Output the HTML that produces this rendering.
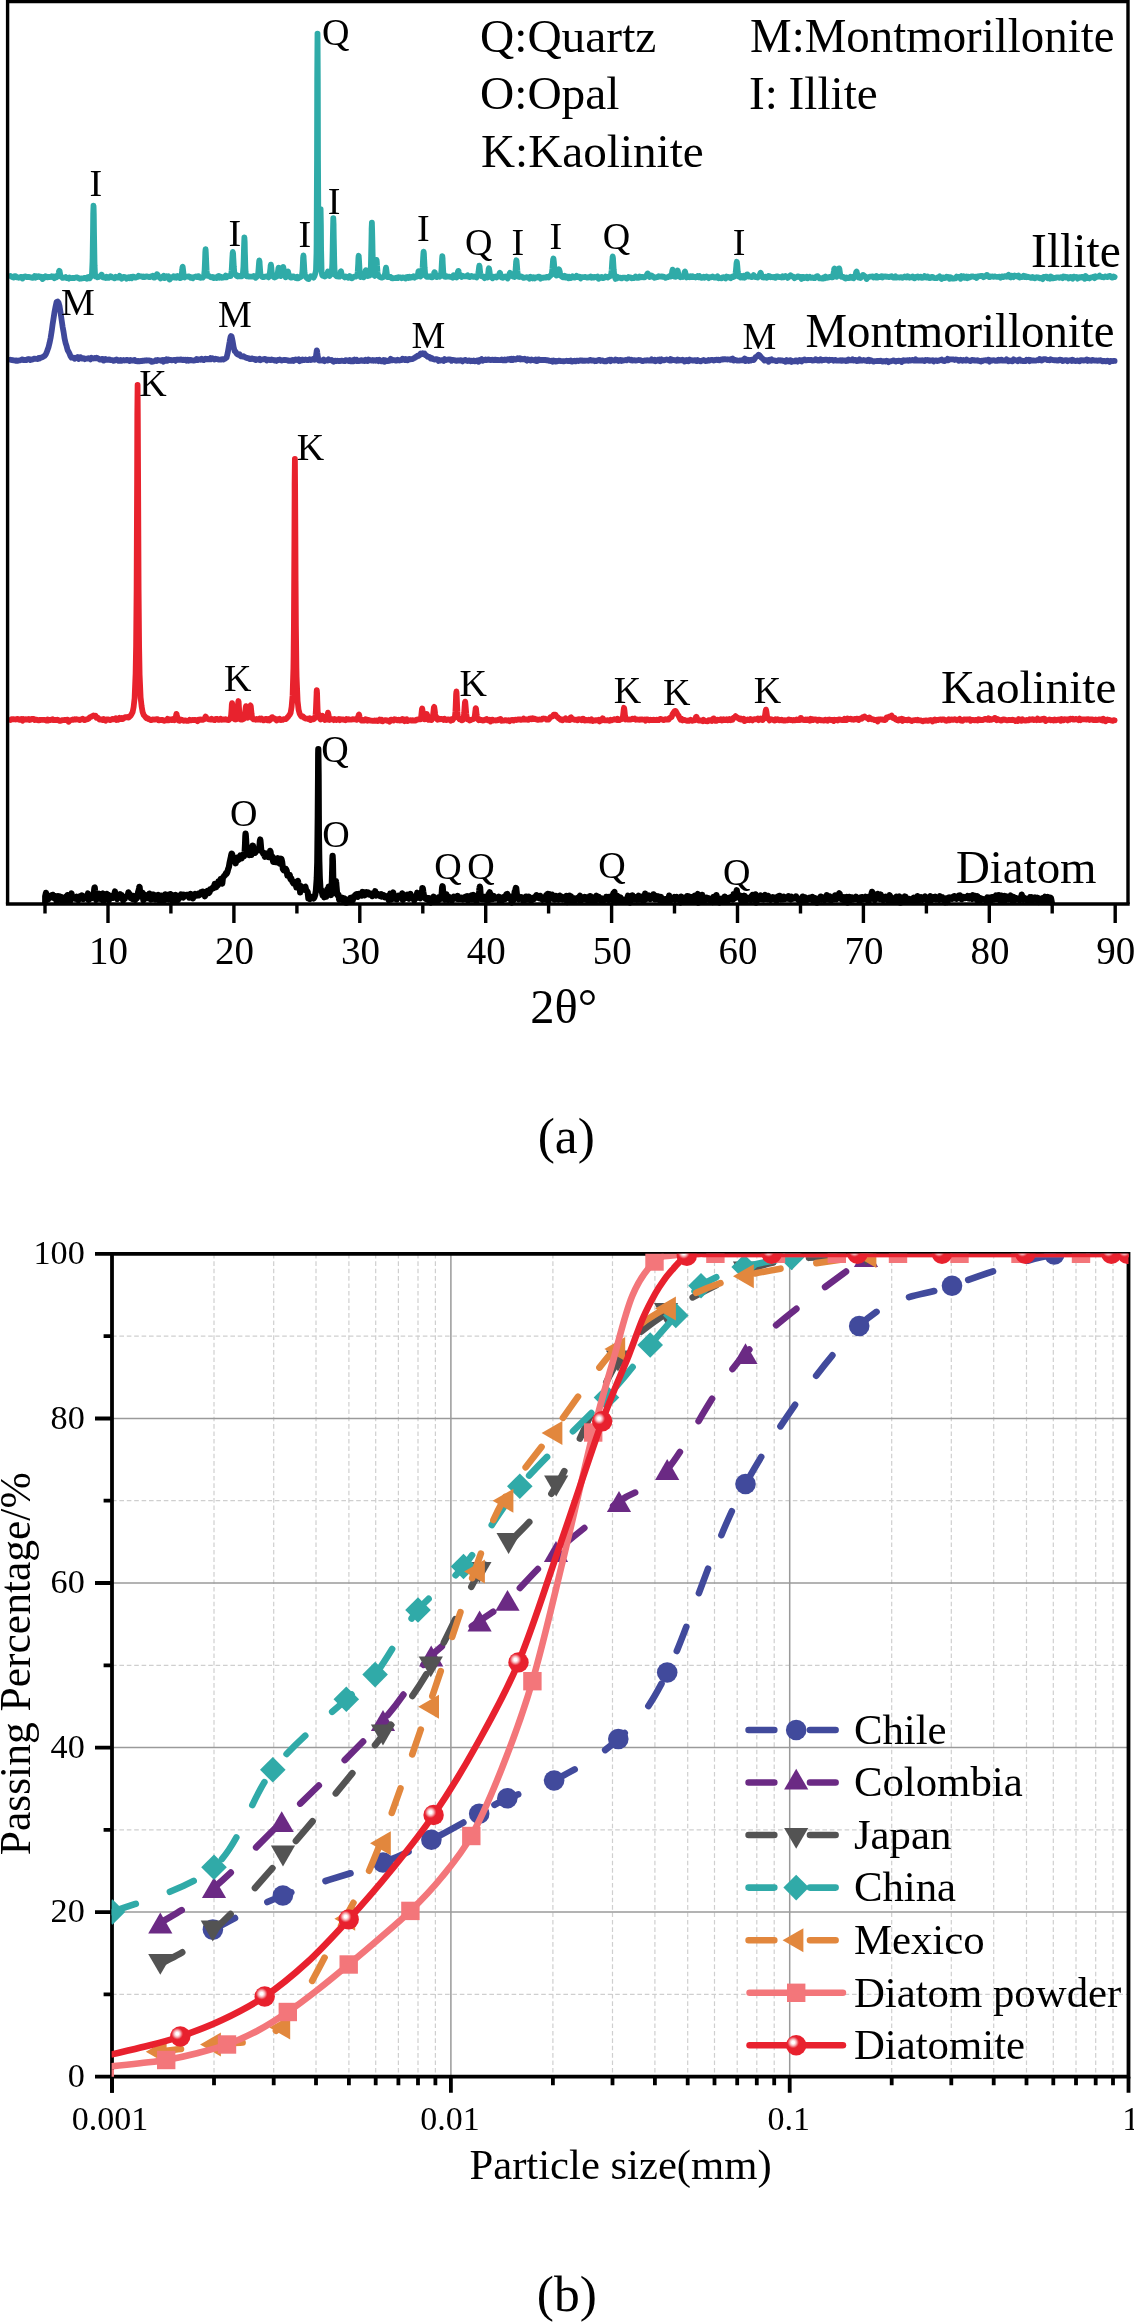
<!DOCTYPE html>
<html lang="en"><head><meta charset="utf-8"><title>XRD patterns and particle size distribution</title>
<style>html,body{margin:0;padding:0;background:#fff}body{width:1134px;height:2322px;overflow:hidden}svg{display:block;will-change:transform}text{font-family:'Liberation Serif', 'Times New Roman', serif;fill:#000}</style>
</head><body>
<svg width="1134" height="2322" viewBox="0 0 1134 2322">
<defs>
<radialGradient id="sph" cx="0.35" cy="0.365" r="0.29" fx="0.35" fy="0.365"><stop offset="0" stop-color="#ffffff"/><stop offset="0.24" stop-color="#ffffff"/><stop offset="0.55" stop-color="#f7b3b8"/><stop offset="0.85" stop-color="#ec4853"/><stop offset="1" stop-color="#E8212E"/></radialGradient>
<clipPath id="clipb"><rect x="111.6" y="1253.7" width="1016.9" height="823"/></clipPath>
</defs>
<rect width="1134" height="2322" fill="#fff"/>
<g id="panel-a">
<polyline points="10.6,276 11.6,276.8 12.6,277.1 13.6,277.5 14.6,276.1 15.6,276.1 16.6,277.3 17.6,277.2 18.6,277.8 19.6,277.5 20.6,276.9 21.6,276.8 22.6,278.5 23.6,276.8 24.6,276.6 25.6,276.4 26.6,277.1 27.6,277.2 28.6,276.9 29.6,277.1 30.6,277.3 31.6,277.6 32.6,277.8 33.6,277.3 34.6,276.1 35.6,277.6 36.6,276.3 37.6,277 38.6,276.2 39.6,277.1 40.6,276.6 41.6,277.2 42.6,279 43.6,277 44.6,277.5 45.6,276.2 46.6,276.8 47.6,277.3 48.6,276.9 49.6,277.2 50.6,277 51.6,276.3 52.6,277.3 53.6,276.5 54.6,278.1 55.6,276.6 56.6,277.3 57.6,276.3 57.8,276.1 58.3,275 58.6,273.8 58.8,272.7 59,271.4 59.3,270.8 59.5,271 59.6,271.1 59.8,272.2 60.3,275 60.6,276.3 60.8,276.6 61.6,276.9 62.6,277.9 63.6,277.7 64.6,277.5 65.6,277 66.6,278 67.6,277.8 68.6,278.6 69.6,277.4 70.6,278 71.6,278.1 72.6,278 73.6,277.9 74.6,278 75.6,277.5 76.6,277.3 77.6,277.7 78.6,278.2 79.6,278.8 80.6,278.5 81.6,278.5 82.6,278.3 83.6,278.2 84.6,277.9 85.6,278.2 86.6,278.7 87.6,277.3 88.6,276.9 89.6,278.3 90.6,276.8 91.6,275.7 92,273.2 92.5,261.6 92.6,257.2 93,231.8 93.2,214.2 93.5,205.7 93.6,207 93.8,214.1 94,231.9 94.5,262.2 94.6,266 95,273.8 95.6,276.6 96.6,276.6 97.6,277.3 98.6,277 99.6,276.4 100.1,276.4 100.6,276.1 101.1,275.2 101.3,274.7 101.6,274.6 101.8,274.9 102.1,275.6 102.6,276.8 103.1,277.4 103.6,277.5 104.6,277.2 105.6,278 106.6,276.8 107.6,277.7 108.6,277.9 109.6,277.1 110.6,276.2 111.6,276.8 112.6,277.5 113.6,277.6 114.6,278.3 115.6,276.7 116.6,277.4 117.6,277.7 118.6,277.3 119.6,275.9 120.6,277.8 121.6,278.7 122.6,277.9 123.6,276.8 124.6,277 125.6,277.4 126.6,278.7 127.6,277.6 128.6,277.2 129.6,278.1 130.6,277 131.6,278.2 132.6,276.6 133.6,276.7 134.6,277.4 135.6,277.7 136.6,277.2 137.6,277 138.6,275.7 139.6,276.3 140.6,276.3 141.6,276.4 142.6,277 143.6,276.4 144.6,277.1 145.6,276.7 146.6,276.4 147.6,276.7 148.6,276.9 149.6,277.2 150.6,276.4 151.6,276.6 152.6,275.9 153.6,277.7 154.6,277.6 155.5,276.6 155.6,276.4 156,275.9 156.5,275 156.6,274.8 156.8,274.5 157,274.2 157.2,274.3 157.5,274.6 157.6,274.7 158,275.8 158.5,276.7 158.6,276.9 159.6,277.1 160.6,278.4 161.6,277.3 162.6,276.7 163.6,275.8 164.6,278.1 165.6,277.4 166.6,276.4 167.6,277.5 168.6,276.4 169.6,279.5 170.6,278.1 171.6,277.8 172.6,277.3 173.6,276.2 174.6,277.4 175.6,276.5 176.6,277.8 177.6,276.1 178.6,276.8 179.6,278 180.6,278.1 181.2,276.6 181.6,274.8 181.7,274.3 182.2,270.2 182.4,267.8 182.6,266.9 182.7,266.8 182.9,268.3 183.2,271 183.6,275 183.7,275.5 184.2,277.1 184.6,277.4 185.6,276.5 186.6,276.7 187.6,276.7 188.6,276.4 189.6,276.7 190.6,277.9 191.6,277.5 192.6,278.3 193.6,277.1 194.6,277 195.6,276.5 196.6,277 197.6,276.3 198.6,276.1 199.6,277.5 200.6,277.9 201.6,277.5 202.6,277.7 203.6,276.6 204.1,275.2 204.6,270.3 205.1,259 205.3,252.2 205.6,249.1 205.8,252.3 206.1,259.1 206.6,270.5 207.1,274.9 207.6,275.8 208.6,276 209.6,276.3 210.6,277.2 211.6,277.4 212.6,277 213.6,278.1 214.6,277.4 215.6,277.6 216.6,278 217.6,276.7 218.6,276 219.6,277.6 220.6,276.7 221.6,277.8 222.6,277.2 223.6,277.5 224.6,277.3 225.6,275.6 226.6,277.2 227.6,276.2 228.6,276 229.6,276 230.6,276.1 231.3,273.6 231.6,270.8 231.8,268.1 232.3,258.7 232.6,254.3 232.6,253.6 232.8,252 233.1,253.5 233.3,257.6 233.6,263 233.8,266.6 234.3,272.4 234.6,274.2 235.6,274.4 236.6,276 237.6,276.5 238.6,275.7 239.6,276.3 240.6,276.2 241.6,276.4 242.6,274.4 242.9,273.3 243.4,267 243.6,261.9 243.9,251.2 244.2,241.9 244.4,237.4 244.6,240.4 244.7,242 244.9,251.7 245.4,268.3 245.6,272.1 245.9,274.8 246.6,276.3 247.6,276.1 248.6,276.5 249.6,276.6 250.6,276.7 251.6,276.6 252.6,276.5 253.6,276 254.6,276.4 255.6,277.8 256.6,277 257.6,276 257.8,275.5 258.3,272.3 258.6,268.6 258.8,265.6 259.1,262 259.3,260.4 259.6,262.1 259.6,262.7 259.8,265.8 260.3,272.6 260.6,274.9 260.8,275.7 261.6,276.3 262.6,277 263.6,277.1 264.6,276.6 265.6,276.6 266.6,276.4 267.6,276.3 268.6,277.3 269.4,275 269.6,274 269.9,272.7 270.4,268.3 270.6,266.4 270.6,265.9 270.9,264.6 271.1,265.8 271.4,268.4 271.6,270.6 271.9,273.3 272.4,275.6 272.6,276 273.6,276.9 274.6,277.5 275.6,276.9 276.6,276.5 277.2,275.4 277.6,273.8 277.7,273.3 278.2,269.9 278.4,268.3 278.6,267.7 278.7,267.7 278.9,268.5 279.2,270.3 279.6,273.5 279.7,274 280.2,275.6 280.6,276 281.6,275.1 281.7,274.9 282.2,272.8 282.6,270.1 282.7,269.3 282.9,267.7 283.2,267 283.4,267.8 283.6,268.7 283.7,269.4 284.2,272.9 284.6,274.6 284.7,275 285.6,277.3 286.5,276.5 286.6,276.2 287,275 287.5,272.7 287.6,272.2 287.8,271.8 288,271.6 288.2,272.3 288.5,273.7 288.6,274.2 289,275.5 289.5,276.2 289.6,276.2 290.6,277.6 291.6,277.7 292.6,276.4 293.6,276.5 294.6,276.9 295.6,278 296.6,278.3 297.6,276.8 298.6,278.1 299.6,277.2 300.6,277.1 301.6,276.3 301.9,275.5 302.4,271.6 302.6,268.7 302.9,262.8 303.1,257.9 303.4,255.5 303.6,256.8 303.6,257.5 303.9,262.3 304.4,271.1 304.6,273.3 304.9,275.1 305.6,276.3 306.6,277.7 307.6,278.7 308.6,279.1 309.6,277.2 310.6,276.3 311.6,276.9 312.6,276.3 313.6,277.6 314.6,275.8 315.6,272.4 316,269.9 316.5,252.8 316.6,243.2 317,160.7 317.2,80.3 317.5,33.6 317.6,42.3 317.8,79.9 318,159.7 318.5,250.8 318.6,257.2 319,267.8 319.1,268.7 319.6,268.6 320.1,247.6 320.4,224.1 320.6,209.1 320.9,224.7 321.1,248.9 321.6,271.6 322.1,274.9 322.6,275.7 323.6,276 324.6,276.5 325.6,276.1 326.5,275.3 326.6,275.1 327,274.5 327.5,273.1 327.6,272.7 327.8,272 328,271.4 328.2,271.7 328.5,272.5 328.6,272.9 329,274.6 329.5,275.8 329.6,275.9 330.6,274.8 331.6,273.9 331.8,272.7 332.3,263.6 332.6,251.1 332.8,239.6 333.1,225.2 333.3,218.1 333.6,224.6 333.6,227.1 333.8,238.9 334.3,263.5 334.6,271 334.8,273.3 335.6,275.3 336.6,276.4 337.6,276.4 338.6,276.6 339.5,276.6 339.6,276.5 340,275 340.5,272.4 340.6,271.9 340.8,271.5 341,271.3 341.2,272.1 341.5,273.4 341.6,274 342,275.2 342.5,275.8 342.6,275.8 343.6,276.3 344.6,277.4 345.6,276.4 346.6,276.8 347.6,277.6 348.6,277.8 349.6,276.1 350.6,277.4 351.6,278.3 352.6,277.8 353.6,276.9 354.6,276.7 355.6,276.7 356.6,275.9 357.2,275.3 357.6,273.1 357.7,272 358.2,263.3 358.4,258.2 358.6,256.1 358.7,255.7 358.9,258.2 359.2,263.3 359.6,270.7 359.7,272.1 360.2,276 360.6,277 361.6,276.5 362.6,275.9 363.6,277.3 364.3,276 364.6,275.1 364.8,274.5 365.3,272.1 365.6,270.8 365.6,270.6 365.8,270.2 366.1,270.9 366.3,272.3 366.6,274 366.8,274.8 367.3,275.9 367.6,276 368.6,275.6 369.6,275.5 370.4,274.1 370.6,272.2 370.9,265.2 371.4,242.3 371.6,231.3 371.6,228.9 371.9,222.7 372.1,229 372.4,242.1 372.6,252.5 372.9,264.4 373.4,273.5 373.6,274.8 374.6,275.9 375,275.5 375.5,272.9 375.6,271.9 376,265.9 376.2,261.8 376.5,259.9 376.6,260.2 376.8,261.7 377,265.5 377.5,271.8 377.6,272.5 378,274.7 378.6,275.9 379.6,276.8 380.6,277.2 381.6,277.7 382.6,277.3 383.6,276.8 384.5,276.3 384.6,276.2 385,274.5 385.5,270.6 385.6,269.7 385.8,268.5 386,267.6 386.2,268.7 386.5,270.9 386.6,271.8 387,274.9 387.5,276.9 387.6,277.1 388.6,277 389.6,276.9 390.6,277 391.6,278.2 392.6,278.4 393.6,278.2 394.6,278.2 395.6,278.2 396.6,277.7 397.6,278.1 398.6,277.1 399.6,277.6 400.6,277.3 401.6,278.2 402.6,277.4 403.6,277.6 404.6,277.9 405.6,278.5 406.6,277.1 407.6,277 408.6,278 409.6,276.8 410.6,277.7 411.6,277 412.6,277.3 413.6,276.2 414.6,277.6 415.6,276.7 416.6,276.2 417.2,276.5 417.6,276.1 417.7,275.6 418.2,272.9 418.4,271.7 418.6,271.2 418.7,271.2 418.9,272.1 419.2,273.5 419.6,275.9 419.7,276.2 420.2,276.6 420.6,276.3 421.6,275.2 422.1,273.1 422.6,267.4 423.1,257.9 423.4,253.5 423.6,251.6 423.9,253.4 424.1,257.9 424.6,267.3 425.1,273.4 425.6,275.8 426.6,276.8 427.6,276.1 428.6,276.9 429.6,276.5 430.6,276.1 431.6,277.4 432.6,277.1 433,276.6 433.5,275.5 433.6,275.2 434,273.6 434.2,272.7 434.5,272.2 434.6,272.2 434.8,272.4 435,273 435.5,274.3 435.6,274.5 436,275.8 436.6,277.1 437.6,276.8 438.6,275.8 439.6,276.7 440.6,275.2 440.8,274.9 441.3,271.9 441.6,267.7 441.8,263.7 442.1,258.6 442.3,256.2 442.6,258.7 442.6,259.6 442.8,263.8 443.3,272.4 443.6,274.9 443.8,275.8 444.6,276.7 445.6,276.9 446.6,276.2 447.6,276.6 448.6,276.6 449.6,276.7 450.6,277 451.6,277.2 452.6,277.7 453.6,275.2 454.6,276.9 455.6,276.4 456.6,277.4 456.7,277.2 457.2,275.6 457.6,273.7 457.7,273.1 457.9,271.7 458.2,270.9 458.4,270.9 458.6,271.2 458.7,271.8 459.2,274.4 459.6,275.9 459.7,276 460.6,276 461.6,277 462.6,275.8 463.6,276.4 464.6,276.3 465.6,276.4 466.6,276.1 467.6,275.3 468.6,276.7 469.6,277.1 470.6,276.4 471.6,275.9 472.6,276.7 473.6,276.9 474.6,276.5 475.6,276.6 476.6,277.4 477.6,275.5 477.8,275.3 478.3,273.5 478.6,271.4 478.8,269.3 479.1,266.9 479.3,265.7 479.6,266.5 479.6,266.9 479.8,268.9 480.3,273.4 480.6,275.1 480.8,275.6 481.6,276.3 482.6,276.3 483.6,276.6 484.6,278.1 485.6,276.9 486.6,276.9 487.4,277.5 487.6,277.3 487.9,275.7 488.4,271.5 488.6,269.7 488.6,269.3 488.9,268.2 489.1,268.8 489.4,270.5 489.6,271.9 489.9,274.2 490.4,276.5 490.6,277.1 491.6,276.6 492.6,278.3 493.6,276.6 494.6,277 495.6,276.4 496.6,277.4 497.6,276.6 498.3,276.6 498.6,276.2 498.8,275.7 499.3,274 499.6,273.2 499.6,273 499.8,272.8 500.1,273.1 500.3,273.8 500.6,274.8 500.8,275.6 501.3,277 501.6,277.5 502.6,277.8 503.6,277.3 504.6,276.7 505.6,276.5 506.6,277.3 507.6,278.5 508.5,276.5 508.6,276.2 509,275.4 509.5,273.9 509.6,273.6 509.8,273.2 510,272.9 510.2,273.2 510.5,273.9 510.6,274.2 511,275.2 511.5,275.9 511.6,276 512.6,276.3 513.6,276.7 514.6,277 514.9,275.9 515.4,272 515.6,269.5 515.9,265.2 516.1,261.8 516.4,260.3 516.6,261.2 516.6,261.6 516.9,264.8 517.4,271 517.6,272.6 517.9,274.7 518.6,276.8 519.6,277 520.6,276.4 521.6,276.6 522.6,277.3 523.6,277.9 524.6,277.7 525.6,277.5 526.6,277.2 527.6,277.6 528.6,277.5 529.6,278.8 530.6,276.8 531.6,277.3 532.6,278.3 533.6,277.3 534.6,278.4 535.6,277.5 536.6,277.6 537.6,277.2 538.6,276.6 539.6,276.8 540.6,278.7 541.6,277.7 542.6,277.6 543.6,277.8 544.6,277.5 545.6,277.7 546.6,276.9 547.6,276.8 548.6,277.4 549.6,276.4 550.6,275.5 551.6,274.5 551.9,272.9 552.4,268.3 552.6,265.8 552.9,262.1 553.1,259.5 553.4,258.5 553.6,259.4 553.6,259.7 553.9,262.2 554.4,268.2 554.6,270.1 554.9,272.4 555.6,274.8 556.6,275.5 557.5,275.2 557.6,275 558,273.1 558.5,270.5 558.6,270 558.8,269.6 559,269.3 559.2,269.7 559.5,270.6 559.6,271 560,272.7 560.5,274.5 560.6,274.8 561.6,276.4 562.6,277.1 563.6,277.4 564.6,275.7 565.6,277.5 566.6,276.8 567.6,276.6 568.6,278.3 569.6,276.8 570.6,278.1 571.6,277.6 572.6,276.4 573.6,277.4 574.6,277.6 575.6,277.1 576.6,275.8 577.6,277.1 578.6,277.2 579.6,276.7 580.6,278.4 581.6,277.2 582.6,277.2 583.6,277.2 584.6,277 585.6,277 586.6,277.5 587.6,277.6 588.6,277.1 589.6,277.4 590.6,276.6 591.6,277.7 592.6,276.9 593.6,277.5 594.6,276.8 595.6,277 596.6,277.5 597.6,276.6 598.6,278.8 599.6,277.3 600.6,277.3 601.6,276.9 602.6,278.2 603.6,278.1 604.6,277.5 605.6,276.5 606.6,277 607.6,277.6 608.6,276.9 609.6,276.3 610.6,275.8 611.2,274 611.6,270.6 611.7,269.5 612.2,261.8 612.5,258.2 612.6,256.9 612.7,256.6 613,258.2 613.2,261.8 613.6,268.2 613.7,269.6 614.2,274.5 614.6,276.2 615.6,278.9 616.6,278.5 617.6,276.9 618.6,277.9 619.6,277.8 620.6,277.7 621.6,278.4 622.6,277.6 623.6,277.7 624.6,277.6 625.6,277.8 626.6,278.6 627.6,278.3 628.6,277 629.6,277.6 630.6,277.3 631.6,278.3 632.6,277.9 633.6,278.2 634.6,277.6 635.6,276.5 636.6,277.8 637.6,277.6 638.6,277.8 639.6,276.6 640.6,277.4 641.6,276.9 642.6,276.8 643.6,277.4 644.6,277.3 645.6,276.4 646.5,275.4 646.6,275.2 647,274.6 647.5,273.6 647.6,273.5 647.8,273.5 648,273.7 648.2,274 648.5,274.6 648.6,274.8 649,275.8 649.5,276.8 649.6,277 650.6,276.7 651.6,275.5 652.6,276.3 653.6,277.1 654.6,277.8 655.6,277.5 656.6,277.1 657.6,277 658.6,276.2 659.6,276.6 660.6,276.7 661.6,276.4 662.6,276.9 663.6,276.7 664.6,277.1 665.6,277.8 666.6,277.4 667.6,277.2 668.6,276.8 669.6,276 670.6,276.6 671.1,276.4 671.6,275.1 672.1,272 672.4,270.4 672.6,269.6 672.9,270.5 673.1,272.2 673.6,275.5 674.1,276.5 674.6,276.4 675.6,276.9 676.1,276.3 676.6,274.9 677.1,272.3 677.4,271 677.6,270.4 677.9,271.4 678.1,273 678.6,276.3 679.1,276.5 679.6,276 680.6,277.3 681.6,276.4 682.6,276.9 683.5,275.7 683.6,275.5 684,274.5 684.5,272.6 684.6,272.2 684.8,271.8 685,271.6 685.2,272.2 685.5,273.4 685.6,273.9 686,275.7 686.5,277.2 686.6,277.4 687.6,276.1 688.6,276.7 689.6,277.3 690.6,276.3 691.6,277.1 692.6,276.2 693.6,277.1 694.6,277 695.6,277.5 696.6,277 697.6,276.1 698.6,277.2 699.6,276.2 700.6,277.3 701.6,277.8 702.6,277.3 703.6,276.7 704.6,277.7 705.6,277.2 706.6,276.4 707.6,277 708.6,278.1 709.6,277.1 710.6,277.4 711.6,277.2 712.6,276.4 713.6,277.1 714.6,277.7 715.6,277.6 716.6,277.4 717.6,276.3 718.6,278.3 719.6,278 720.6,278.2 721.6,278.4 722.6,277.3 723.6,277.2 724.6,277.7 725.6,278.5 726.6,276.5 727.6,277.3 728.6,277 729.6,277.7 730.6,278.2 731.6,277.1 732.6,276.4 733.6,277 734.6,276.5 735.3,274.7 735.6,272.9 735.8,271.5 736.3,266 736.5,263.3 736.6,262.9 736.8,261.8 737,263 737.3,265.8 737.6,269.5 737.8,271.9 738.3,275.5 738.6,276.5 739.6,275.9 740.6,277.5 741.6,276 742.6,277.5 743.6,275.8 744.6,277.7 745.6,276.5 745.9,276.2 746.4,275.3 746.6,274.8 746.9,274.5 747.1,274.3 747.4,274.3 747.6,274.6 747.6,274.7 747.9,275.2 748.4,276.2 748.6,276.6 748.9,276.6 749.6,276.3 750.6,276.6 751.6,277.1 752.6,276.9 753.6,275.1 754.6,276.7 755.6,277.2 756.6,277.2 757.6,277.5 758.6,276.1 759,276.3 759.5,276.1 759.6,276 760,274.3 760.2,273.4 760.5,272.9 760.6,272.8 760.8,273 761,273.6 761.5,275 761.6,275.3 762,276.4 762.6,277.3 763.6,277.5 764.6,277.1 765.6,276.7 766.6,277.7 767.6,277.3 768.6,275.9 769.6,276.3 770.6,277.3 771.6,277 772.6,277.1 773.6,277.3 774.6,276.9 775.6,277.8 776.6,276.4 777.6,276.5 778.6,276.9 779.6,277.2 780.6,277.2 781.6,277.5 782.6,276.4 783.6,277.3 784.6,276.9 785.6,276 786.6,276.5 787.6,277.9 788.6,277.1 789.6,276.4 790.6,275.2 791.6,276.3 792.6,276.3 793.6,276.8 794.6,278.2 795.6,277.3 796.6,277.1 797.6,276.4 798.6,276.3 799.6,277 800.6,276.9 801.6,279 802.6,277 803.6,276.9 804.6,278 805.6,277.5 806.6,276.7 807.6,278.3 808.6,277.3 809.6,276.8 810.6,277.8 811.6,277.9 812.6,277.4 813.6,278.1 814.6,278.2 815.6,277.1 816.6,276.4 817.6,276.2 818.6,277.6 819.6,278.4 820.6,278.2 821.6,278.4 822.6,278.7 823.6,277.6 824.6,278.2 825.6,276.6 826.6,277.9 827.6,277.7 828.6,277.4 829.6,277.1 830.6,276.6 831.6,277.3 832.6,277.4 833,276.2 833.5,273.6 833.6,272.9 834,270.5 834.2,269.1 834.5,268.6 834.6,268.8 834.8,269.2 835,270.4 835.5,273.3 835.6,273.8 836,275.5 836.6,276.8 837.6,275.1 838.1,273.5 838.6,270.7 838.9,269.1 839.1,268.4 839.4,269 839.6,270.4 840.1,273.8 840.6,276.1 841.6,276.8 842.6,276.7 843.6,277.2 844.6,278.1 845.6,278.5 846.6,277.4 847.6,278.1 848.6,278.1 849.6,277.9 850.6,276.7 851.6,277.8 852.6,277 853.6,278.2 854.6,277.2 854.9,276.7 855.4,275.5 855.6,274.9 855.9,273.4 856.1,272.4 856.4,271.7 856.6,271.5 856.6,271.6 856.9,272.7 857.4,275 857.6,275.9 857.9,276.6 858.6,277.5 859.6,276.6 860.6,277.9 861.5,276.9 861.6,276.7 862,276.2 862.5,275.4 862.6,275.3 862.8,275.1 863,274.9 863.2,274.9 863.5,275.1 863.6,275.2 864,275.6 864.5,276.1 864.6,276.2 865.6,276.9 866.6,279.1 867.6,277.3 868.6,277.3 869.6,276.7 870.6,276.7 871.6,276.7 872.6,276.4 873.6,277.5 874.6,276.7 875.6,277.4 876.6,276.1 877.6,277.4 878.6,276.8 879.6,277.2 880.6,276.7 881.6,276.2 882.6,277.5 883.6,276.5 884.6,276.7 885.6,276.3 886.6,276.9 887.6,276.6 888.6,277 889.6,277.1 890.6,276.5 891.6,276.1 892.6,277.3 893.6,277.6 894.6,277.5 895.6,276.4 896.6,277.5 897.6,277.4 898.6,277.4 899.6,277.5 900.6,277.1 901.6,277.4 902.6,277.9 903.6,277 904.6,276.5 905.6,277.3 906.6,277.5 907.6,276.2 908.6,276.9 909.6,277.7 910.6,277.2 911.6,277.4 912.6,276.5 913.6,277.8 914.6,278.3 915.6,277.1 916.6,276.8 917.6,276.5 918.6,277.7 919.6,277.2 920.6,276.7 921.6,277.9 922.6,277.6 923.6,277.5 924.6,276.1 925.6,277.1 926.6,277.6 927.6,276.5 928.6,277.8 929.6,278.1 930.6,277.9 931.6,276.9 932.6,276.9 933.6,277.9 934.6,278 935.6,278.2 936.6,278.2 937.6,277.4 938.6,277.3 939.6,276.4 940.6,278 941.6,279 942.6,277.3 943.6,277.3 944.6,278 945.6,277.9 946.6,276.8 947.6,277.2 948.6,277 949.6,278.8 950.6,277.2 951.6,278.1 952.6,278.7 953.6,278.6 954.6,278.3 955.6,278.4 956.6,276.6 957.6,277.1 958.6,276.8 959.6,277.1 960.6,278.7 961.6,276.1 962.6,277.4 963.6,276.3 964.6,277.8 965.6,277.7 966.6,276.5 967.6,278.1 968.6,276.8 969.6,277.5 970.6,276.9 971.6,276.3 972.6,276.4 973.6,276.6 974.6,277 975.6,276.7 976.6,278 977.6,276.5 978.6,276.4 979.6,276.2 980.6,276.2 981.6,275.8 982.6,276.1 983.6,277.2 984.6,276.7 985.5,276.2 985.6,276.1 986,275.7 986.5,275.1 986.6,275 986.8,274.9 987,274.9 987.2,275.1 987.5,275.6 987.6,275.8 988,276.3 988.5,276.7 988.6,276.8 989.6,277.2 990.6,276.5 991.6,276.7 992.6,276.4 993.6,276.8 994.6,276.4 995.6,276.7 996.6,276.8 997.6,276.8 998.6,276.8 999.6,276.6 1000.6,277.7 1001.6,276.7 1002.6,276.3 1003.6,277 1004.6,276.2 1005.6,276.2 1006.6,276.8 1007.6,275.8 1008.6,274.8 1009.6,276.9 1010.6,277.4 1011.6,275.7 1012.6,276.2 1013.6,277.1 1014.6,275.5 1015.6,276.2 1016.6,276 1017.6,276.7 1018.6,275.6 1019.6,277.4 1020.6,276.8 1021.6,277.1 1022.6,276.8 1023.6,275.7 1024.6,277 1025.6,276.3 1026.6,277.2 1027.6,276.7 1028.6,277.1 1029.6,277.2 1030.6,277.8 1031.6,277.9 1032.6,276.9 1033.6,277.5 1034.6,278.4 1035.6,277.9 1036.6,277.2 1037.6,277.6 1038.6,277.5 1039.6,278.3 1040.6,277.8 1041.6,278 1042.6,279.1 1043.6,276.9 1044.6,277.1 1045.6,276.7 1046.6,276.7 1047.6,278.2 1048.6,277.8 1049.6,278.6 1050.6,276.4 1051.6,277 1052.6,278.4 1053.6,278.1 1054.6,278 1055.6,277.9 1056.6,277.4 1057.6,277.3 1058.6,277.3 1059.6,277.8 1060.6,277.2 1061.6,277.4 1062.6,278.1 1063.6,276.5 1064.6,276.7 1065.6,277.5 1066.6,277 1067.6,277.1 1068.6,278.4 1069.6,277.4 1070.6,276.9 1071.6,277.9 1072.6,278.7 1073.6,276.6 1074.6,276.9 1075.6,277.3 1076.6,276.9 1077.6,278.6 1078.6,277.6 1079.6,277.1 1080.6,277.6 1081.6,276.9 1082.6,277 1083.6,277.4 1084.6,278.8 1085.6,276 1086.6,277.6 1087.6,278.1 1088.6,277.7 1089.6,278.4 1090.6,277.5 1091.6,277.3 1092.6,277.1 1093.6,276.7 1094.6,278.1 1095.6,276.4 1096.6,277 1097.6,276.7 1098.6,276.5 1099.6,275.6 1100.6,276.7 1101.6,277 1102.6,277 1103.6,277.4 1104.6,276.7 1105.6,276.4 1106.6,277 1107.6,277.2 1108.6,276.3 1109.6,275.9 1110.6,276.2 1111.6,277.5 1112.6,277.5 1113.6,276.4 1114.6,277" fill="none" stroke="#2FABA8" stroke-width="5.8" stroke-linejoin="round" stroke-linecap="round"/>
<polyline points="10.6,359.8 11.6,360 12.6,360.1 13.6,360.3 14.6,360.5 15.6,360.8 16.6,360.4 17.6,360.9 18.6,360.5 19.6,360.3 20.6,360.1 21.6,359.7 22.6,359.3 23.6,360 24.6,359.9 25.6,360.1 26.6,360.1 27.6,359.2 28.6,359.4 29.6,359.1 30.6,360.1 31.6,359.5 32.6,359.5 33.6,358.9 34.6,358.6 35.6,358.8 36.6,358.9 37.6,359 38.6,357.9 39.6,358.6 40.6,357.7 41.6,357.5 42.6,357.1 43.6,356.4 44.6,355.9 45.6,354.7 46.6,352.6 47.6,349.7 48.6,346.9 49.6,342.8 50.6,338 51.6,331.8 52.6,324.4 53.6,318 54.6,311.5 55.6,306.4 56.6,302 57.6,301.4 58.6,302.8 59.6,306.4 60.6,312.9 61.6,319.9 62.6,326.7 63.6,332.1 64.6,338.7 65.6,343.1 66.6,346.2 67.6,350.1 68.6,351.7 69.6,353.8 70.6,356.3 71.6,357.7 72.6,357.6 73.6,357.7 74.6,358.8 75.6,358.2 76.6,357.7 77.6,357.1 78.6,358.9 79.6,357.4 80.6,357.2 81.6,358.3 82.6,358.7 83.6,358.3 84.6,359.2 85.6,358.6 86.6,358.7 87.6,358.7 88.6,358.2 89.6,358.5 90.6,359.4 91.6,357.8 92.6,358.3 93.6,358.5 94.6,358 95.6,358.3 96.6,357.6 97.6,358.3 98.6,358.7 99.6,359.5 100.6,359.6 101.6,359 102.6,359 103.6,360.6 104.6,360.3 105.6,359 106.6,359.9 107.6,359.7 108.6,359.9 109.6,359.4 110.6,360.1 111.6,360.1 112.6,360.2 113.6,360.9 114.6,360.5 115.6,359.8 116.6,359.5 117.6,360.1 118.6,360.9 119.6,360.8 120.6,360 121.6,360.9 122.6,360.5 123.6,360 124.6,360.5 125.6,360.3 126.6,359.8 127.6,360.1 128.6,360.4 129.6,361 130.6,359.9 131.6,360.5 132.6,360.5 133.6,360.4 134.6,359.9 135.6,361.2 136.6,361.2 137.6,361.4 138.6,360.9 139.6,361.4 140.6,361 141.6,361.2 142.6,360.6 143.6,360.9 144.6,360.7 145.6,360.3 146.6,360.6 147.6,360.3 148.6,360.3 149.6,360.7 150.6,360.6 151.6,361.9 152.6,361.7 153.6,361.4 154.6,361.2 155.6,360.3 156.6,360.9 157.6,359.9 158.6,360.3 159.6,360.3 160.6,360.3 161.6,360.9 162.6,360 163.6,361.6 164.6,360 165.6,360.7 166.6,359.4 167.6,360.6 168.6,359.5 169.6,360.1 170.6,360 171.6,360.4 172.6,360.2 173.6,360.1 174.6,359.8 175.6,360.8 176.6,359.6 177.6,359.8 178.6,359.6 179.6,359.9 180.6,359.4 181.6,359.6 182.6,360.1 183.6,359.6 184.6,360.1 185.6,359.6 186.6,360.6 187.6,359.8 188.6,360.8 189.6,360.2 190.6,359.8 191.6,360.4 192.6,360.4 193.6,360.6 194.6,360.4 195.6,360.1 196.6,359 197.6,360 198.6,359.3 199.6,359.5 200.6,359.8 201.6,358.7 202.6,359.6 203.6,360.1 204.6,359.1 205.6,358.6 206.6,359.4 207.6,358.8 208.6,359.3 209.6,359.4 210.6,358.1 211.6,359.1 212.6,358.3 213.6,358.8 214.6,359.5 215.6,358.7 216.6,359 217.6,359.2 218.6,359.6 219.6,359.7 220.6,359.7 221.6,359.3 222.6,359.1 223.6,359.6 224.6,358.8 225.6,358.3 226.6,357.5 227.6,353.4 228.6,347.7 229.5,342.5 229.6,342 230,339.5 230.5,337.2 230.6,336.9 230.8,336.4 231,336 231.2,336.1 231.5,336.4 231.6,336.5 232,338.1 232.5,340.5 232.6,341 233.6,346.9 234.6,351 235.6,351.7 236.6,353.6 237.6,354.4 238.6,354.9 239.6,354.3 240.6,356.3 241.6,356.4 242.6,356.5 243.6,356.2 244.6,357 245.6,357.6 246.6,357.8 247.6,358.2 248.6,358.1 249.6,359 250.6,359 251.6,358.3 252.6,358.7 253.6,359.3 254.6,358.9 255.6,360 256.6,359.1 257.6,359.5 258.6,359.8 259.6,358.9 260.6,360.2 261.6,359.5 262.6,359.3 263.6,359.3 264.6,358.8 265.6,359 266.6,360.5 267.6,359.7 268.6,359.7 269.6,359.9 270.6,360.2 271.6,359.5 272.6,359.8 273.6,360.1 274.6,360.5 275.6,360.2 276.6,360.9 277.6,360 278.6,360 279.6,359.5 280.6,360.2 281.6,360.5 282.6,360.1 283.6,360.2 284.6,359.8 285.6,360 286.6,360.1 287.6,360.3 288.6,360.8 289.6,360.6 290.6,360.8 291.6,360.9 292.6,360 293.6,360.9 294.6,360.2 295.6,359.5 296.6,359.9 297.6,360.1 298.6,359.3 299.6,361.2 300.6,360 301.6,360.4 302.6,359.4 303.6,360 304.6,360.1 305.6,359.5 306.6,360 307.6,359.9 308.6,360.1 309.6,359.3 310.6,360.1 311.6,359.7 312.6,359.4 313.6,358.7 314.6,359.6 315.3,358.9 315.6,358 315.8,357.2 316.3,353.7 316.6,351.7 316.6,351.4 316.8,350.4 317.1,351 317.3,352.9 317.6,355.1 317.8,356.9 318.3,359.5 318.6,360.4 319.6,360.6 320.6,360.3 321.6,360.4 322.6,360.6 323.6,359.6 324.6,361.1 325.6,360.3 326.6,360.2 327.6,360.6 328.6,359.3 329.6,360 330.6,360.2 331.6,360 332.6,361.1 333.6,361.7 334.6,360.9 335.6,360.7 336.6,361.1 337.6,360.7 338.6,361 339.6,361.1 340.6,360.8 341.6,360.7 342.6,360.9 343.6,360.9 344.6,361.2 345.6,360.1 346.6,360.3 347.6,360.6 348.6,361 349.6,360.1 350.6,361.3 351.6,361.4 352.6,360.3 353.6,361.2 354.6,359.6 355.6,360.6 356.6,359.8 357.6,361.2 358.6,361.1 359.6,360.9 360.6,360.3 361.6,360.1 362.6,360.9 363.6,360.4 364.6,361 365.6,359.9 366.6,360.9 367.6,361 368.6,359.6 369.6,360.1 370.6,360.4 371.6,360.5 372.6,359.9 373.6,360.8 374.6,360.2 375.6,360.8 376.6,359.9 377.6,360.2 378.6,361.1 379.6,359.9 380.6,360.7 381.6,361.4 382.6,361.1 383.6,360 384.6,361.7 385.6,360.3 386.6,361 387.6,361 388.6,360.3 389.6,360.7 390.6,358.9 391.6,360.3 392.6,360.3 393.6,360 394.6,360.2 395.6,360.6 396.6,360.5 397.6,359.7 398.6,360.3 399.6,360.5 400.6,359.9 401.6,360 402.6,358.6 403.6,359 404.6,360 405.6,359 406.6,360.2 407.6,360.3 408.6,359.1 409.6,358.9 410.6,359.3 411.6,359.2 412.6,359.2 413.6,358.3 414.6,358 415.6,356.9 416.6,356.9 417.6,355.7 418.6,355.9 419.6,355.2 420.6,353.5 421.6,354.1 422.6,353.2 423.6,354.3 424.6,353.6 425.6,355.2 426.6,355.6 427.6,356.8 428.6,356.7 429.6,357.2 430.6,358.5 431.6,357.9 432.6,358.9 433.6,359.2 434.6,359.6 435.6,359.1 436.6,359.2 437.6,359.3 438.6,360.9 439.6,360 440.6,360.5 441.6,360.2 442.6,360.1 443.6,360.9 444.6,359 445.6,360.1 446.6,359.8 447.6,359.7 448.6,359.4 449.6,359.4 450.6,359.6 451.6,360.8 452.6,359.9 453.6,360.1 454.6,360.2 455.6,360.7 456.6,360.9 457.6,360.5 458.6,360.4 459.6,360.7 460.6,360.1 461.6,360.7 462.6,361.4 463.6,360.3 464.6,360.2 465.6,359.9 466.6,360.7 467.6,361 468.6,360.5 469.6,360.5 470.6,361.3 471.6,360.7 472.6,361 473.6,360.5 474.6,361.3 475.6,361.1 476.6,360.5 477.6,360.3 478.6,361.8 479.6,359.9 480.6,360 481.6,359.1 482.6,360.7 483.6,360.3 484.6,360.2 485.6,359.4 486.6,360.1 487.6,359.7 488.6,359.4 489.6,359.9 490.6,360.1 491.6,359.8 492.6,359.6 493.6,360.2 494.6,359.9 495.6,359.6 496.6,360.1 497.6,359.9 498.6,360.2 499.6,360.2 500.6,360.1 501.6,359.5 502.6,360.4 503.6,360.3 504.6,359.5 505.6,360.4 506.6,359.8 507.6,359.2 508.6,359.6 509.6,358.9 510.6,360 511.6,358.8 512.6,360 513.6,358.8 514.6,359.1 515.6,359.7 516.6,359.2 517.6,358.2 518.6,359 519.6,358.2 520.6,359.5 521.6,358.7 522.6,359.3 523.6,359.4 524.6,358.8 525.6,359.8 526.6,360.6 527.6,359.3 528.6,359.6 529.6,360.1 530.6,360.5 531.6,359.5 532.6,360.1 533.6,360.2 534.6,360.5 535.6,359.6 536.6,361.2 537.6,361 538.6,359.4 539.6,359.7 540.6,360.2 541.6,359.8 542.6,359.9 543.6,360.2 544.6,359.8 545.6,359.9 546.6,360.4 547.6,360.1 548.6,360.6 549.6,360.9 550.6,361 551.6,360.6 552.6,361.6 553.6,360.5 554.6,361.1 555.6,361.6 556.6,360.9 557.6,361.3 558.6,360.7 559.6,360.6 560.6,361.1 561.6,361.2 562.6,361.2 563.6,361.4 564.6,361.2 565.6,361 566.6,360.7 567.6,361 568.6,361 569.6,361 570.6,360.4 571.6,361.6 572.6,361.5 573.6,361 574.6,360.6 575.6,361.4 576.6,360.7 577.6,360.6 578.6,361 579.6,360.4 580.6,360.7 581.6,360.4 582.6,360.9 583.6,360.7 584.6,360.9 585.6,360.7 586.6,360.6 587.6,360.6 588.6,360.8 589.6,360 590.6,359.8 591.6,360.5 592.6,360.5 593.6,360.3 594.6,361.2 595.6,360.7 596.6,361.1 597.6,360.5 598.6,359.8 599.6,359.8 600.6,361 601.6,360.5 602.6,360.3 603.6,361.2 604.6,361.4 605.6,360.8 606.6,361.2 607.6,360.4 608.6,360.1 609.6,359.7 610.6,361.1 611.6,359.8 612.6,360.3 613.6,360.5 614.6,360.7 615.6,359.5 616.6,360.3 617.6,359.9 618.6,361 619.6,360.2 620.6,359.9 621.6,361 622.6,360.2 623.6,360.5 624.6,360.3 625.6,360 626.6,360.4 627.6,359.7 628.6,359.3 629.6,359.7 630.6,360.3 631.6,359.8 632.6,360.5 633.6,360.4 634.6,360.1 635.6,360.6 636.6,360.3 637.6,360.3 638.6,360 639.6,360.1 640.6,360.2 641.6,360.8 642.6,361.1 643.6,360.9 644.6,360.5 645.6,360.4 646.6,360.6 647.6,360.2 648.6,360.5 649.6,360.4 650.6,360.5 651.6,359.4 652.6,360.5 653.6,360.8 654.6,359.9 655.6,361.2 656.6,360.3 657.6,359.8 658.6,360.7 659.6,359.5 660.6,361.1 661.6,359.4 662.6,360.2 663.6,360.4 664.6,360.1 665.6,359.8 666.6,359.5 667.6,359.8 668.6,360.1 669.6,360.5 670.6,359.1 671.6,360.5 672.6,359.7 673.6,360 674.6,360.3 675.6,360.1 676.6,360.7 677.6,359.6 678.6,360.6 679.6,359.9 680.6,360.3 681.6,360.4 682.6,359.8 683.6,360.6 684.6,361.5 685.6,360.2 686.6,360 687.6,361.2 688.6,361.3 689.6,359.5 690.6,360.4 691.6,360.2 692.6,360.6 693.6,360.5 694.6,360.1 695.6,360.4 696.6,361.1 697.6,360.1 698.6,360.7 699.6,360.9 700.6,361.4 701.6,360.7 702.6,360.6 703.6,360 704.6,360.6 705.6,361 706.6,360.6 707.6,360.9 708.6,360 709.6,360.6 710.6,360 711.6,359.8 712.6,359.8 713.6,360.6 714.6,360.2 715.6,359.8 716.6,359.7 717.6,360.2 718.6,359.6 719.6,360.3 720.6,359.9 721.6,359.4 722.6,359.6 723.6,359.1 724.6,359.1 725.6,359.4 726.6,359.4 727.6,359.5 728.6,359.3 729.6,359.3 730.6,359.8 731.6,359.1 732.6,358.5 733.6,360.6 734.6,359.9 735.6,360 736.6,360.5 737.6,360.5 738.6,360.7 739.6,360.5 740.6,360.4 741.6,360.4 742.6,360.1 743.6,360.1 744.6,358.5 745.6,361.1 746.6,360.2 747.6,359.8 748.6,360.9 749.6,360 750.6,360.5 751.6,359.8 752.6,359.5 753.6,360.1 754.6,358.9 755.6,357 756.6,356.8 757.6,355.8 758.6,354.7 759.6,355.4 760.6,356.6 761.6,357.8 762.6,358.7 763.6,359.6 764.6,360.6 765.6,360.2 766.6,360.1 767.6,360.1 768.6,361.8 769.6,359.8 770.6,360.3 771.6,359.4 772.6,360.3 773.6,360.3 774.6,360.3 775.6,360.8 776.6,361.2 777.6,360.6 778.6,360.1 779.6,360.3 780.6,360.6 781.6,360.3 782.6,360.6 783.6,361 784.6,360.9 785.6,361.8 786.6,360 787.6,360.9 788.6,361.4 789.6,360.3 790.6,360.1 791.6,361.9 792.6,361.4 793.6,361.1 794.6,361.4 795.6,360.4 796.6,360.3 797.6,361.6 798.6,360.8 799.6,359.9 800.6,360.6 801.6,361.4 802.6,360.1 803.6,359.8 804.6,359.4 805.6,360.4 806.6,360.4 807.6,360 808.6,360 809.6,360.1 810.6,359.9 811.6,359.9 812.6,360.6 813.6,360.1 814.6,360.3 815.6,359.2 816.6,359.6 817.6,360.5 818.6,360.1 819.6,360.5 820.6,359.3 821.6,360.4 822.6,359.8 823.6,360.1 824.6,359.8 825.6,359.6 826.6,359.6 827.6,360.1 828.6,360.7 829.6,359.7 830.6,360 831.6,359.8 832.6,359.9 833.6,360.7 834.6,360.1 835.6,359.9 836.6,360.7 837.6,360.6 838.6,360.6 839.6,360.5 840.6,360.1 841.6,360.8 842.6,360.1 843.6,360.5 844.6,360.5 845.6,361 846.6,360.3 847.6,360.8 848.6,359.5 849.6,360.4 850.6,360.4 851.6,360.4 852.6,359.3 853.6,360.6 854.6,360 855.6,359.9 856.6,361 857.6,360.1 858.6,360.7 859.6,359.4 860.6,360.6 861.6,360.4 862.6,360.5 863.6,359.9 864.6,360.5 865.6,360.3 866.6,361.1 867.6,360.2 868.6,359.7 869.6,361.1 870.6,360.1 871.6,360.6 872.6,361.1 873.6,361.6 874.6,361.1 875.6,361.2 876.6,361 877.6,361 878.6,361 879.6,361.2 880.6,360.6 881.6,361.2 882.6,361.7 883.6,361.2 884.6,361.1 885.6,361.5 886.6,360.7 887.6,361 888.6,362.2 889.6,361.5 890.6,361.4 891.6,361 892.6,360.7 893.6,360.4 894.6,360.9 895.6,361.5 896.6,360.8 897.6,361.2 898.6,360.6 899.6,360.8 900.6,360.8 901.6,362 902.6,360.6 903.6,360.1 904.6,360.9 905.6,360.5 906.6,360.7 907.6,360.1 908.6,360.8 909.6,360 910.6,360.5 911.6,360.1 912.6,360 913.6,360.6 914.6,360.5 915.6,359.4 916.6,360.7 917.6,360.7 918.6,360.4 919.6,360.5 920.6,360.5 921.6,360.5 922.6,360.2 923.6,360.9 924.6,361 925.6,360 926.6,360.4 927.6,360 928.6,360.2 929.6,360.9 930.6,360.4 931.6,360.5 932.6,360.2 933.6,361.4 934.6,360.8 935.6,360.4 936.6,360.3 937.6,361 938.6,360.7 939.6,360.3 940.6,360 941.6,359.5 942.6,360.6 943.6,360.8 944.6,361.1 945.6,360 946.6,360.3 947.6,358.9 948.6,360.1 949.6,359.4 950.6,359.4 951.6,359.4 952.6,359.4 953.6,359.5 954.6,360 955.6,359.5 956.6,359.6 957.6,359.8 958.6,360.8 959.6,360.3 960.6,359.7 961.6,360.4 962.6,360.8 963.6,360 964.6,360.5 965.6,360.7 966.6,359.6 967.6,360.4 968.6,360.3 969.6,360.8 970.6,361.1 971.6,360.2 972.6,359.8 973.6,360.3 974.6,360.6 975.6,360.3 976.6,360.7 977.6,360.1 978.6,360.9 979.6,361 980.6,361.6 981.6,360.6 982.6,361.1 983.6,360.3 984.6,360.3 985.6,360.2 986.6,360.5 987.6,359.9 988.6,359.7 989.6,361.6 990.6,360.3 991.6,360.5 992.6,360.5 993.6,360.2 994.6,360.3 995.6,360.9 996.6,360.5 997.6,360.9 998.6,359.8 999.6,360.6 1000.6,359.9 1001.6,359.7 1002.6,360.7 1003.6,360.4 1004.6,360.7 1005.6,360.7 1006.6,359.4 1007.6,360.6 1008.6,361.3 1009.6,360.5 1010.6,360.9 1011.6,361.1 1012.6,361.3 1013.6,359.3 1014.6,360.4 1015.6,360.4 1016.6,360.4 1017.6,361.1 1018.6,359.9 1019.6,359.4 1020.6,360.7 1021.6,360.4 1022.6,361 1023.6,361 1024.6,360.6 1025.6,361.1 1026.6,359.8 1027.6,360.3 1028.6,359.7 1029.6,361.2 1030.6,360.1 1031.6,360.7 1032.6,360.4 1033.6,360.5 1034.6,360.6 1035.6,360.6 1036.6,360.4 1037.6,360 1038.6,360.3 1039.6,359 1040.6,359.4 1041.6,360.5 1042.6,360.1 1043.6,359.1 1044.6,359.2 1045.6,359.2 1046.6,359.6 1047.6,360.2 1048.6,359.8 1049.6,360.2 1050.6,359.2 1051.6,359.8 1052.6,360 1053.6,360.1 1054.6,360.3 1055.6,360.1 1056.6,360.4 1057.6,360.7 1058.6,360.4 1059.6,359.6 1060.6,359.9 1061.6,359.9 1062.6,361.1 1063.6,360.7 1064.6,360.4 1065.6,360.2 1066.6,360.2 1067.6,361.2 1068.6,360.5 1069.6,360.3 1070.6,360.2 1071.6,360.9 1072.6,359.7 1073.6,360.3 1074.6,360.9 1075.6,361 1076.6,360.9 1077.6,360.4 1078.6,361 1079.6,361.4 1080.6,360.2 1081.6,360.2 1082.6,360.4 1083.6,360.6 1084.6,360.3 1085.6,360.2 1086.6,359.5 1087.6,360.9 1088.6,360 1089.6,360.5 1090.6,360.3 1091.6,360.9 1092.6,360 1093.6,360.1 1094.6,360.7 1095.6,360.7 1096.6,360.4 1097.6,360.9 1098.6,360.5 1099.6,360.6 1100.6,360.2 1101.6,360.8 1102.6,361.3 1103.6,360.8 1104.6,360.9 1105.6,361.4 1106.6,360.8 1107.6,360.7 1108.6,361.1 1109.6,361.9 1110.6,360.9 1111.6,361.1 1112.6,361.2 1113.6,360.9 1114.6,360.9" fill="none" stroke="#3F489B" stroke-width="5.8" stroke-linejoin="round" stroke-linecap="round"/>
<polyline points="10.6,719.9 11.6,719.1 12.6,719.3 13.6,719.2 14.6,719.3 15.6,719.5 16.6,719.2 17.6,718.9 18.6,719.4 19.6,719.9 20.6,719.4 21.6,718.9 22.6,720.7 23.6,719 24.6,719.5 25.6,719.2 26.6,719.7 27.6,719.6 28.6,718.9 29.6,720 30.6,719.7 31.6,718.9 32.6,719 33.6,719 34.6,720.1 35.6,719.7 36.6,719.7 37.6,720.2 38.6,720.4 39.6,719.8 40.6,720 41.6,719.8 42.6,719.8 43.6,719.9 44.6,719.9 45.6,720.3 46.6,720.6 47.6,719.5 48.6,720.5 49.6,720 50.6,720.1 51.6,719.5 52.6,719.2 53.6,720.2 54.6,720 55.6,720 56.6,720.2 57.6,719.7 58.6,720.4 59.6,720.9 60.6,720.8 61.6,720.4 62.6,720.1 63.6,720.1 64.6,720 65.6,719.9 66.6,719.8 67.6,719.6 68.6,721.8 69.6,720.3 70.6,720.2 71.6,720 72.6,719.5 73.6,719.8 74.6,719.2 75.6,719.7 76.6,719.2 77.6,719.5 78.6,719.7 79.6,720.1 80.6,719.6 81.6,719.3 82.6,718.7 83.6,719.6 84.6,720.2 85.6,719.7 86.6,719.4 87.6,719.2 88.6,718.7 89.6,717.4 90.6,717 91.6,716.6 92.6,715.9 93.6,715.5 94.6,716.1 95.6,715.8 96.6,717.9 97.6,717.6 98.6,718.4 99.6,719.7 100.6,719.6 101.6,719.5 102.6,720.1 103.6,719 104.6,720 105.6,720.8 106.6,719.5 107.6,719.5 108.6,719.4 109.6,720 110.6,720 111.6,719.4 112.6,718.8 113.6,719.3 114.6,719.1 115.6,718.3 116.6,719.9 117.6,718.7 118.6,719.6 119.6,717.9 120.6,719 121.6,718.1 122.6,719 123.6,718.6 124.6,717.3 125.6,717.1 126.6,717.4 127.6,716.9 128.6,717.6 129.6,716.7 130.6,715.7 131.6,714 132.6,712.2 133.6,707.2 134.6,698.3 135.6,673.5 136.1,646 136.6,589.8 137.1,479.4 137.3,414.9 137.6,385 137.8,414.9 138.1,479.3 138.6,589.6 139.1,646.4 139.6,674.6 140.6,697.4 141.6,706.3 142.6,712.1 143.6,714.8 144.6,716 145.6,717.3 146.6,718.4 147.6,718.1 148.6,719.1 149.6,719.3 150.6,720.2 151.6,720.1 152.6,719.4 153.6,719.6 154.6,719.6 155.6,719.3 156.6,719.2 157.6,719.1 158.6,720.4 159.6,720.1 160.6,720.2 161.6,719.8 162.6,719.9 163.6,720.6 164.6,720.8 165.6,720.2 166.6,720.3 167.6,718.8 168.6,720.3 169.6,719.4 170.6,719.4 171.6,720.1 172.6,719.1 173.6,718.9 174.6,720.2 174.9,720 175.4,719.2 175.6,718.4 175.9,716.5 176.2,714.8 176.4,713.9 176.6,714.2 176.7,714.5 176.9,716.1 177.4,718.8 177.6,719.4 177.9,720 178.6,720.5 179.6,720.9 180.6,719.5 181.6,719.8 182.6,720.2 183.6,720.8 184.6,720.4 185.6,720.5 186.6,720.9 187.6,720.9 188.6,720.8 189.6,719.8 190.6,720.4 191.6,720.1 192.6,720 193.6,720.2 194.6,719.8 195.6,720.1 196.6,720.1 197.6,721.2 198.6,719.7 199.6,719.9 200.6,719.5 201.6,719.9 202.6,719.9 203.6,719.1 204.1,719.3 204.6,719.2 205.1,717.7 205.3,717 205.6,716.6 205.8,716.8 206.1,717.3 206.6,718.3 207.1,718.7 207.6,718.9 208.6,719.3 209.6,719.4 210.6,719.6 211.6,718.7 212.6,719.5 213.6,719.9 214.6,720.1 215.6,719.1 216.6,718.8 217.6,719.2 218.6,719.9 219.6,719.6 220.6,718.7 221.6,719.7 222.6,719.3 223.6,719.7 224.6,719.7 225.6,719.2 226.6,719.6 227.6,720 228.6,720.2 229.6,719 230.6,718.3 231.1,715.2 231.6,708.6 231.8,704.8 232.1,703.1 232.3,704.7 232.6,708.2 233.1,715 233.6,718.2 234.6,719.3 235.6,719.5 236.6,719.2 236.9,717.8 237.4,713.1 237.6,710.2 237.9,705.8 238.2,702.4 238.4,701 238.6,702.4 238.7,702.9 238.9,706.4 239.4,713.3 239.6,715.1 239.9,717.3 240.6,719.5 241.6,719.5 242.6,719.5 243.6,719 244.5,716.5 244.6,716 245,713.6 245.5,709.2 245.6,708.3 245.8,707 246,706.1 246.2,707 246.5,709.2 246.6,710.2 247,714.2 247.5,717.4 247.6,717.8 248.6,717.1 249,715.6 249.5,712 249.6,711.1 250,707.6 250.2,705.9 250.5,705.4 250.6,705.7 250.8,706.4 251,708.4 251.5,713.3 251.6,714.2 252,716.7 252.6,718.6 253.6,719.3 254.6,719.2 255.6,719.7 256.6,719 257.6,719.6 258.6,719.4 259.6,718.6 260.6,719.7 261.6,718.6 262.6,719.6 263.6,720.4 264.6,719.9 265.6,718.8 266.6,718.8 267.6,720.2 268.6,719.1 269.6,720.5 270.6,719.3 270.8,719.2 271.3,718.4 271.6,717.7 271.8,717.4 272.1,717.1 272.3,717.1 272.6,717.6 272.6,717.7 272.8,717.9 273.3,718.5 273.6,718.6 273.8,718.7 274.6,718.5 275.6,719.4 276.6,720.4 277.6,719.2 278.6,719.8 279.6,718.8 280.6,720.1 281.6,719.9 282.6,719.9 283.6,719.1 284.6,719.2 285.6,719.2 286.6,718.4 287.6,717.3 288.6,716.1 289.6,714.8 290.6,712.9 291.6,707.1 292.6,695.2 293.4,668.4 293.6,655.5 293.9,626.3 294.4,539.1 294.6,494.7 294.6,484.8 294.9,458.9 295.1,485.1 295.4,539.4 295.6,580.7 295.9,626 296.4,667.4 296.6,677 297.6,701.1 298.6,709.8 299.6,713.6 300.6,715.4 301.6,716.6 302.6,716.2 303.6,717.1 304.6,718.1 305.6,718.5 306.6,718.6 307.6,718.7 308.6,719.3 309.6,718.4 310.6,720 311.6,719.3 312.6,718.4 313.6,719.2 314.6,718.4 315.3,716.8 315.6,714.6 315.8,712.1 316.3,700.3 316.6,693.4 316.6,692.3 316.8,690.1 317.1,693.6 317.3,700.8 317.6,709 317.8,712.6 318.3,716.5 318.6,717 319.6,718 320.5,719.3 320.6,719.4 321,718.9 321.5,717.5 321.6,717.2 321.8,716.5 322,715.7 322.2,715.7 322.5,716.2 322.6,716.4 323,717.8 323.5,718.7 323.6,718.8 324.6,720 325.6,719.6 326.5,719.6 326.6,719.5 327,718.2 327.5,715.2 327.6,714.5 327.8,713.6 328,712.7 328.2,713.3 328.5,714.7 328.6,715.3 329,717.9 329.5,719.7 329.6,719.9 330.6,719.4 331.6,719 332.6,719.3 333.6,720.1 334.6,719 335.6,719.6 336.6,720 337.6,719.5 338.6,719 339.6,720.1 340.6,719.2 341.6,719.7 342.6,719.3 343.6,719.6 344.6,720 345.6,720.3 346.6,719 347.6,719.6 348.6,719.2 349.6,719.6 350.6,719.6 351.6,719.6 352.6,719.2 353.6,719.4 354.6,719.4 355.6,719.2 356.6,719.8 357.5,718.2 357.6,717.9 358,717.2 358.5,715.5 358.6,715.1 358.8,714.7 359,714.5 359.2,715.2 359.5,716.5 359.6,717.1 360,718.7 360.5,719.7 360.6,719.8 361.6,720.5 362.6,719.9 363.6,720.6 364.6,720.6 365.6,719.3 366.6,719.6 367.6,720.7 368.6,719.9 369.6,720.3 370.6,720.6 371.6,720.6 372.6,720.8 373.6,720.9 374.6,720.5 375.6,720.9 376.6,720.4 377.6,721 378.6,720.6 379.6,719.6 380.6,720.7 381.6,719.9 382.6,721.3 383.6,720.7 384.6,720.4 385.6,720.1 386.6,720.3 387.6,720.8 388.6,720.6 389.6,721.7 390.6,719.7 391.6,719.7 392.6,720.1 393.6,720.6 394.6,719.2 395.6,719.8 396.6,719.7 397.6,720.4 398.6,719.7 399.6,720.5 400.6,719.8 401.6,720.3 402.6,719 403.6,719.6 404.6,721.1 405.6,719.6 406.6,719.3 407.6,721 408.6,720.3 409.6,720.3 410.6,720.2 411.6,720.7 412.6,720.1 413.6,720.5 414.6,720.6 415.6,720.6 416.6,719.7 417.6,719.6 418.6,719.2 419.6,719.1 420.6,719.3 420.7,719 421.2,716.3 421.6,712.6 421.7,711.6 421.9,709.4 422.2,708.5 422.4,709.6 422.6,711 422.7,711.9 423.2,716 423.6,717.7 423.7,718.1 424.6,719.4 425.3,719.1 425.6,718.6 425.8,718.2 426.3,716.2 426.6,714.9 426.6,714.7 426.8,714.1 427.1,714.7 427.3,716 427.6,717.4 427.8,718.4 428.3,719.6 428.6,719.9 429.6,719.9 430.6,719.1 431.6,720 432.6,717.2 432.7,716.8 433.2,713.7 433.6,710 433.7,709.2 433.9,707.4 434.2,706.9 434.4,708.1 434.6,709.4 434.7,710.2 435.2,714.2 435.6,716.3 435.7,716.7 436.6,718.6 437.6,719.7 438.6,718.6 439.6,719.4 440.6,718.9 441.6,719 442.6,719.1 443.6,719.9 444.6,718.8 445.6,720 446.6,720.2 447.6,719.3 448.6,719.3 449.6,719.8 450.6,720.7 451.6,719.3 452.6,720 453.6,718.4 454.6,717.6 454.9,716.7 455.4,711.7 455.6,707.9 455.9,700.4 456.1,694.3 456.4,691.5 456.6,693.4 456.6,694.3 456.9,700.6 457.4,712 457.6,714.9 457.9,717 458.6,717.8 459.6,719.3 460.6,719.2 461.6,720.3 462.6,720.1 463.6,718.5 463.7,717.9 464.2,712.9 464.6,706.8 464.7,705.5 464.9,702.6 465.2,701.6 465.4,703.5 465.6,705.7 465.7,707 466.2,713.3 466.6,716.2 466.7,716.9 467.6,719.5 468.6,719.7 469.6,720.5 470.6,720.2 471.6,719.5 472.6,719.3 473.6,719 474.3,718.5 474.6,717.4 474.8,716 475.3,711.3 475.6,709.1 475.6,708.7 475.8,708.2 476.1,709.2 476.3,711.5 476.6,714.5 476.8,716 477.3,718.3 477.6,718.7 478.6,720.1 479.6,719.3 480.6,720 481.6,719.8 482.6,720.7 483.6,720.5 484.6,719.9 485.6,719.6 486.6,719 487.6,720.3 488.6,720.3 489.6,719.7 490.6,721.5 491.6,719.8 492.6,719.6 493.6,720.5 494.6,720.3 495.6,720.5 496.6,720.1 497.6,720.4 498.6,719.5 499.6,719.3 500.6,718.9 501.6,720.8 502.6,720.7 503.6,720.6 504.6,720.4 505.6,720.1 506.6,720.3 507.6,720.7 508.6,720.2 509.6,721.1 510.6,720.1 511.6,720.1 512.6,719.8 513.6,720.5 514.6,719.8 515.6,719.7 516.6,720 517.6,719.4 518.6,719.4 519.6,719.5 520.6,719.9 521.6,719.6 522.6,719.6 523.6,718.6 524.6,719.6 525.6,719.4 526.6,719.5 527.6,719.8 528.6,719.8 529.6,718.7 530.6,718.5 531.6,719.3 532.6,718.2 533.6,719.1 534.6,718.7 535.6,719.2 536.6,719.5 537.6,719.9 538.6,719.6 539.6,719.5 540.6,719.7 541.6,719.6 542.6,718.7 543.6,718.5 544.6,718.7 545.6,718.9 546.6,719.6 547.6,719.6 548.6,719.5 549.6,718.4 550.6,717 551.6,716.7 552.6,716.3 553.6,714.7 554.6,714.6 555.6,714.9 556.6,716.7 557.6,717 558.6,718.4 559.6,718.6 560.6,719.8 561.6,719.6 562.6,720.3 563.6,719.2 564.6,719.3 565.6,718.3 566.6,719.8 567.6,719.7 568.6,719.7 569.5,720.2 569.6,720.2 570,719.3 570.5,717.8 570.6,717.6 570.8,717.4 571,717.3 571.2,717.5 571.5,717.9 571.6,718.1 572,718.5 572.5,718.7 572.6,718.7 573.6,719.5 574.6,719.9 575.6,719.9 576.6,719.6 577.6,720.3 578.6,719.2 579.6,719.6 580.6,719.3 581.5,720 581.6,720.1 582,719.7 582.5,719 582.6,718.8 582.8,718.7 583,718.6 583.2,718.7 583.5,718.9 583.6,719.1 584,719.7 584.5,720.4 584.6,720.5 585.6,719.8 586.6,720.1 587.6,720.4 588.6,719.8 589.6,720.6 590.6,720.6 591.6,719.4 592.6,720.9 593.6,720.3 594.6,720.7 595.6,720.1 596.6,720.2 597.6,720.6 598.6,719.9 599.6,721.4 600.6,720.2 601.5,720.5 601.6,720.5 602,719.7 602.5,718.5 602.6,718.3 602.8,718.4 603,718.6 603.2,719.1 603.5,719.8 603.6,720 604,720.2 604.5,720.3 604.6,720.2 605.6,720.3 606.6,720.3 607.6,720.2 608.6,720.3 609.6,720.8 610.6,719.8 611.6,720.3 612.6,719.9 613.6,719.7 614.6,719.1 615.6,719.5 616.6,720 617.6,718.8 618.6,720.2 619.6,720.1 620.6,719.3 621.6,719.1 622.5,718.2 622.6,717.9 623,715.9 623.5,711.5 623.6,710.5 623.8,709.1 624,707.8 624.2,708.5 624.5,710.6 624.6,711.5 625,715.8 625.5,719.1 625.6,719.5 626.6,719.2 627.6,719.5 628.6,719.4 629.6,719.6 630.6,719.6 631.6,719.2 632.6,718.6 633.6,719 634.6,718.5 635.6,719.7 636.6,719.4 637.6,719.7 638.6,719.6 639.6,719.8 640.6,719.4 641.6,719.5 642.6,719.5 643.6,719.7 644.6,719.5 645.6,720.8 646.6,719.4 647.6,719.3 648.6,719.8 649.6,720.3 650.6,719.7 651.6,720 652.6,720.1 653.6,719.6 654.6,720.1 655.6,720.1 656.6,719.7 657.6,720.2 658.6,720.2 659.6,719.2 660.6,718.9 661.6,719.4 662.6,719.6 663.6,720.1 664.6,719.6 665.6,719.1 666.6,719.5 667.6,719.6 668.6,719.6 669.6,718.1 670.6,717.5 671.6,717.1 672.6,714 673.6,712.5 674.6,711 675.6,710.8 676.6,712.6 677.6,714.5 678.6,715.8 679.6,718 680.6,719.7 681.6,718.9 682.6,720.4 683.6,719.9 684.6,720 685.6,720.4 686.6,720.6 687.6,720.9 688.6,720.3 689.6,720.7 690.6,719.8 691.6,720.6 692.6,720.8 693.6,720.2 694.6,720.3 694.8,720 695.3,718.9 695.6,718.1 695.8,717.5 696,717 696.3,716.8 696.5,716.9 696.6,717 696.8,717.5 697.3,718.9 697.6,719.6 697.8,719.9 698.6,720.6 699.6,720.3 700.6,720.4 701.6,720.7 702.6,721.2 703.6,719.8 704.6,720.7 705.6,721.1 706.6,721.1 707.6,721.3 708.6,720.1 709.6,720.1 710.6,720.5 711.6,721 712.5,719.4 712.6,719.2 713,719 713.5,718.5 713.6,718.4 713.8,718.4 714,718.5 714.2,718.8 714.5,719.2 714.6,719.4 715,720.1 715.5,720.8 715.6,720.9 716.6,720.8 717.6,719.7 718.6,720.2 719.6,719.8 720.6,719.3 721.6,720.5 722.6,720.4 723.6,719.3 724.6,720.2 725.6,719.9 726.6,719.3 727.6,720.3 728.6,720.2 729.6,719 730.6,720.1 731.6,719.2 732.6,719.7 733.6,717.6 734.6,717.7 735.6,716.1 736.6,717.2 737.6,717.7 738.6,718.6 739.6,719.2 740.6,718.6 741.6,719.7 742.6,719.8 743.6,718.7 744.6,721.1 745.6,719.9 746.6,720.2 747.6,719.4 748.6,720 749.6,720.3 750.6,719 751.6,719.5 752.6,720.4 753.6,719.3 754.6,719.2 755.6,719.4 756.6,719.3 757.6,718.6 758.6,720.1 759.6,719.2 760.6,718.5 761.6,719.6 762.6,720.1 763.6,718.6 764.5,717.6 764.6,717.3 765,715.5 765.5,712 765.6,711.2 765.8,710.3 766,709.6 766.2,710.4 766.5,712.1 766.6,712.9 767,715.9 767.5,718.2 767.6,718.5 768.6,718.8 769.6,720.4 770.6,719.2 771.6,719.3 772.6,719.8 773.6,720.1 774.6,720.6 775.6,719.3 776.6,720 777.6,719.2 778.6,719.9 779.6,720.4 780.6,720 781.6,719.6 782.6,720.4 783.6,720.5 784.6,720.1 785.6,720.5 786.6,720.3 787.6,720.4 788.6,719.5 789.6,719.6 790.6,720.2 791.6,720 792.6,720.5 793.6,719.9 794.6,720.4 795.6,720.2 796.6,719.4 797.6,720.1 798.6,720.1 799.5,720.1 799.6,720.1 800,719.3 800.5,718.1 800.6,717.8 800.8,717.8 801,717.9 801.2,718.2 801.5,718.8 801.6,719 802,719.5 802.5,719.8 802.6,719.8 803.6,719.8 804.6,720.2 805.6,719.5 806.6,720.1 807.6,719.4 808.6,720.2 809.6,720.7 810.6,718.9 811.6,720.2 812.6,719.2 813.6,720 814.6,719.5 815.6,719.5 816.6,719.6 817.6,720.7 818.6,719.6 819.6,719.7 820.6,720.3 821.6,720.2 822.6,720.4 823.6,720.5 824.6,719.8 825.6,719.7 826.6,720.5 827.6,720.8 828.6,719.7 829.6,719.5 830.6,720 831.6,720 832.6,719.9 833.6,721 834.6,719.8 835.6,720.1 836.6,719.9 837.6,720.5 838.6,719.6 839.6,719.3 840.6,719.8 841.6,719.9 842.6,720.2 843.6,720.2 844.6,718.8 845.6,720 846.6,720 847.6,718.6 848.6,719.2 849.6,719 850.6,718.6 851.6,719.5 852.6,719.2 853.6,719.8 854.6,718.9 855.6,719.4 856.6,718.7 857.6,718.9 858.6,720 859.6,718.7 860.6,718.8 861.6,718.8 862.6,717.3 863.6,716.9 864.6,716.5 865.6,717.5 866.6,717.9 867.6,717.9 868.6,719.1 869.6,717.6 870.6,718.5 871.6,719.3 872.6,719.1 873.6,719.5 874.6,720.2 875.6,720 876.6,719.7 877.6,721.4 878.6,719.5 879.6,719.4 880.6,719.6 881.6,719.3 882.6,719.6 883.6,719.9 884.6,720.1 885.6,719.8 886.6,717.5 887.6,717.6 888.6,717.3 889.6,716.3 890.6,716.4 891.6,715.6 892.6,717.7 893.6,718.3 894.6,717.9 895.6,719.5 896.6,719.8 897.6,720.3 898.6,720.6 899.6,719.3 900.6,719.9 901.6,718.9 902.6,720.9 903.6,719.4 904.6,720.1 905.6,720.2 906.6,719.8 907.6,720.4 908.6,719.5 909.6,720.2 910.6,720.5 911.6,721.1 912.6,720.4 913.6,720.4 914.6,720.2 915.6,720 916.6,720.3 917.6,719.7 918.6,720.4 919.6,720.3 920.6,720.4 921.6,720.7 922.6,721.3 923.6,720.6 924.6,720.9 925.6,720.4 926.6,720.4 927.6,720.9 928.6,720.6 929.6,720.1 930.6,720.4 931.6,720.1 932.6,721.4 933.6,720 934.6,719.5 935.6,720.6 936.6,719.9 937.6,720.2 938.6,719.8 939.6,719.5 940.6,719.3 941.6,720.1 942.6,719.5 943.6,719.4 944.6,719.7 945.6,720.7 946.6,720.8 947.6,720 948.6,719.2 949.6,720.3 950.6,719.9 951.6,719.4 952.6,719.9 953.6,719.8 954.6,719.2 955.6,719.7 956.6,720.3 957.6,719.6 958.6,719.7 959.6,718.9 960.6,720.7 961.6,720.6 962.6,720.8 963.6,719.7 964.6,719.3 965.6,719.5 966.6,719.8 967.6,719.4 968.6,719.5 969.6,719.1 970.6,720.7 971.6,720 972.6,719.9 973.6,720.2 974.6,720.4 975.6,719.8 976.6,719.9 977.6,720.5 978.6,719.1 979.6,719.5 980.6,720.2 981.6,720 982.6,720.1 983.6,719.6 984.6,719.1 985.6,718.8 986.6,719.5 987.6,719.9 988.6,718.4 989.6,719.9 990.6,719 991.6,719.8 992.6,719.2 993.5,719.1 993.6,719.1 994,718.7 994.5,718.1 994.6,718 994.8,718 995,718 995.2,718.3 995.5,718.6 995.6,718.7 996,719.3 996.5,720 996.6,720.1 997.6,719.1 998.6,719.7 999.6,719.9 1000.6,720.5 1001.6,720.5 1002.6,719.6 1003.6,719.4 1004.6,719.6 1005.6,719.9 1006.6,720.3 1007.6,720.4 1008.6,720 1009.6,719.9 1010.6,720.2 1011.6,720.2 1012.6,719.7 1013.6,720.1 1014.6,720.2 1015.6,721.1 1016.6,720.3 1017.6,720.9 1018.6,719.1 1019.6,719.6 1020.6,719.9 1021.6,720.8 1022.6,719.4 1023.6,720.3 1024.6,720.4 1025.6,720.7 1026.6,720 1027.6,720.4 1028.6,720.3 1029.6,719.2 1030.6,719.8 1031.6,719.3 1032.6,719.2 1033.6,720.1 1034.6,719.8 1035.6,719.4 1036.6,720.1 1037.6,718.6 1038.6,719.6 1039.6,720.1 1040.6,719.4 1041.6,719.9 1042.6,719 1043.6,718.6 1044.6,718.9 1045.6,721.1 1046.6,720.3 1047.6,719.8 1048.6,719.8 1049.6,719.4 1050.6,720.2 1051.6,719.8 1052.6,720.1 1053.6,720.5 1054.6,719.5 1055.6,720.4 1056.6,720.1 1057.6,719.6 1058.6,719.8 1059.6,719.5 1060.6,720.7 1061.6,719 1062.6,720.2 1063.6,720.3 1064.6,719.2 1065.6,719.5 1066.6,719.3 1067.6,720.4 1068.6,719.3 1069.6,719.8 1070.6,718.6 1071.6,719 1072.6,718.7 1073.6,719.7 1074.6,719.6 1075.6,718.9 1076.6,719.1 1077.6,719.5 1078.6,720.2 1079.6,718.6 1080.6,720.1 1081.6,719.3 1082.6,719.4 1083.6,719.3 1084.6,719.3 1085.6,719.4 1086.6,719.6 1087.6,719.2 1088.6,719.2 1089.6,720 1090.6,719.5 1091.6,719.4 1092.6,719.3 1093.6,720 1094.6,720 1095.6,719.4 1096.6,720.2 1097.6,720 1098.6,719.4 1099.6,719.5 1100.6,720.1 1101.6,719.2 1102.6,720.4 1103.6,718.9 1104.6,720.6 1105.6,721.2 1106.6,719.9 1107.6,719.5 1108.6,720 1109.6,720 1110.6,720.3 1111.6,720.5 1112.6,720.9 1113.6,720.2 1114.6,720.4" fill="none" stroke="#E8222D" stroke-width="5.8" stroke-linejoin="round" stroke-linecap="round"/>
<polyline points="45.2,902.6 45.2,896.4 46,892.8 46.7,898.7 47.5,897.1 48.2,899.2 49,895.9 49.7,897.5 50.5,896.4 51.2,895.6 52,897.2 52.7,894.8 53.5,896.4 54.2,898.3 55,897.2 55.7,896.4 56.5,901 57.2,897.3 58,896.2 58.7,897.6 59.5,896.4 60.2,896.7 61,896.8 61.7,901 62.5,897.5 63.2,897.8 64,898.7 64.7,901.1 65.5,897.2 66.2,896.5 67,902 67.7,895.1 68.5,897 69.2,898.8 70,901.6 70.7,896 71.5,893.4 72.2,898.8 73,896.7 73.7,896.9 74.5,898.4 75.2,897.9 76,898 76.7,896.7 77.5,899.7 78.2,900.1 79,897.4 79.7,896.6 80.5,898.6 81.2,898.1 82,895.4 82.7,896.4 83.5,899 84.2,896.9 85,896.5 85.7,897.4 86.5,896.9 87.2,896.9 88,893.5 88.7,899.9 89.5,897.2 90.2,895.2 91,898.4 91.7,897.2 92.5,896.5 93,897.2 93.2,897.1 93.5,896.4 94,893.8 94,893.1 94.2,889.7 94.5,887.6 94.7,887.5 94.8,888 95,891 95.5,896.2 95.5,896.6 96,899.3 96.2,899.9 97,894.7 97.7,895.7 98.5,898 99.2,893.7 100,896.3 100.7,899 101.5,898.6 102.2,897.8 103,893.5 103.7,901 104.5,897.8 105.2,898.2 106,897.8 106.7,893.9 107.5,894.4 108.2,894.8 109,900.3 109.7,895.5 110.5,896.6 111.2,896.5 112,898 112.7,897.9 113.5,897.5 114.2,894.8 115,891.5 115.7,897.3 116.5,897.4 117.2,899.1 118,896.8 118.7,895.9 119.5,897.6 120.2,894.2 121,895.1 121.7,895.1 122.5,897.3 123.2,900.5 124,898.1 124.7,898.8 125.5,897.2 126.2,897.2 127,895.9 127.7,896.2 128.4,892.4 129.2,894.5 129.9,894.4 130.7,898.1 131.4,897.7 132.2,898.6 132.9,899.3 133.7,896 134.4,898.4 135.2,899.9 135.9,896.4 136.7,898.3 137.4,895.9 137.8,894.3 138.2,891.7 138.3,891.6 138.8,889.9 138.9,889.3 139.1,888.3 139.3,886.9 139.6,887.2 139.7,888.1 139.8,889.1 140.3,894 140.4,895 140.8,895.6 141.2,895.5 141.9,897.1 142.7,892.9 143.4,900.3 144.2,899.1 144.9,896.2 145.7,895.3 146.4,896.9 147.2,898.1 147.9,897.7 148.7,897.7 149.4,893.6 150.2,895.1 150.9,899.5 151.7,897.6 152.4,894.6 153.2,895.8 153.9,894.8 154.7,895.6 155.4,899.5 156.2,897 156.9,899.4 157.7,897.8 158.4,894.9 159.2,896.4 159.9,901.6 160.7,896.2 161.4,895.7 162.2,899.8 162.9,897.7 163.7,897.6 164.4,900.2 165.2,894.4 165.9,898.3 166.7,895.7 167.4,895 168.2,896 168.9,899.5 169.7,897.2 170.4,894.1 171.2,895.4 171.9,900.1 172.7,899.2 173.4,895.3 174.2,901.6 174.9,896.6 175.7,895.1 176.4,896.9 177.2,898.8 177.9,900 178.7,898.9 179.4,896.3 180.2,896 180.9,894.4 181.7,896.9 182.4,895.9 183.2,897.4 183.9,894.7 184.7,896 185.4,895.3 186.2,894.8 186.9,894.8 187.7,895.1 188.4,894.7 189.2,897.7 189.9,896.7 190.7,894 191.4,897.1 192.2,896.5 192.9,898.4 193.7,895.2 194.4,895 195.2,893.9 195.9,895.2 196.7,895.6 197.4,894.8 198.2,893.9 198.9,895.2 199.7,894.2 200.4,894.3 201.2,892.1 201.9,894 202.7,891.6 203.4,891.7 204.2,893.2 204.9,896.3 205.7,894 206.4,891.8 207.2,891.1 207.9,892.8 208.7,893.1 209.4,892.4 210.2,889.5 210.9,889.8 211.7,888.5 212.4,888.3 213.2,887 213.9,887.9 214.7,884 215.4,885 216.2,887.2 216.9,883.9 217.7,885.5 218.4,881.3 219.2,881.9 219.9,882.4 220.7,878.9 221.4,878.7 222.2,883.7 222.9,877.6 223.7,876.6 224.4,875.6 225.2,875.1 225.9,873.3 226.7,873.6 227.4,871.9 228.2,868.8 228.9,867 229.7,862.4 230.4,859.2 230.4,859 230.9,857.1 231.2,855.3 231.4,854.5 231.7,853.6 231.9,853.7 231.9,853.9 232.2,854.3 232.4,855.6 232.7,857.2 232.9,858.6 233.4,860.8 233.4,860.9 234.2,861.4 234.9,859.3 235.7,863.3 236.4,858.2 237.2,857.6 237.9,857.5 238.7,859.8 239.4,857.1 240.2,855.6 240.9,857.5 241.7,858.3 242.4,855.5 243.2,854.6 243.9,856.2 244.1,855.9 244.6,852.7 244.7,851.4 245.1,843.4 245.3,837.4 245.4,835.5 245.6,833.7 245.8,835.5 246.1,840.3 246.2,842.1 246.6,849.6 246.9,852.8 247.1,853.2 247.7,853.7 248.4,849.9 249.2,855.1 249.9,852.7 250.7,851.3 251.1,853.4 251.4,854.9 251.6,853.7 252.1,848.8 252.2,847.8 252.3,846.7 252.6,845.5 252.8,845.5 252.9,845.7 253.1,846.7 253.6,849.6 253.7,850.1 254.1,851.3 254.4,852.1 255.2,852.8 255.9,851.3 256.7,850 257.4,850.4 258.2,850.2 258.7,849.4 258.9,848.5 259.2,847.7 259.7,844 259.9,841 260.2,839.5 260.4,840.6 260.7,843.8 261.2,849.8 261.7,851.4 261.9,851.5 262.7,852.4 263.4,854 264.2,853.9 264.9,856.8 265.7,853.4 266.4,855.6 267.2,855.4 267.9,853.4 268.7,857.2 269.3,856.4 269.4,856.1 269.8,853.9 270.2,850.9 270.3,851.2 270.6,852.2 270.8,853.7 270.9,854.9 271.1,855.2 271.3,856.3 271.7,858 271.8,857.8 272.3,856.9 272.4,856.5 273.2,861.9 273.9,860.1 274.7,858.5 275.4,862.2 276.2,860.8 276.9,859.4 277.7,858.2 278.4,862.8 279.2,861.4 279.7,862.9 279.9,863.5 280.2,862.8 280.7,860.9 280.9,859.6 281.2,858.8 281.4,858.9 281.7,860.1 282.2,862.5 282.7,866.9 282.9,868.9 283.7,870.3 284.4,870 285.2,869.2 285.9,869 286.7,870.8 287.4,875.5 288.2,874.8 288.9,875 289.7,874.9 290.4,878.9 291.2,878.2 291.9,880.4 292.7,882.2 293.4,883.3 294.2,882.3 294.9,882.2 295.7,883.9 296.4,887.4 297,885.8 297.2,885.1 297.5,883.6 297.9,880.9 298,881.2 298.2,882.5 298.5,884.1 298.7,885.7 298.8,885.7 299,885.6 299.4,885.5 299.5,886 300,890.7 300.2,892.5 300.9,886.2 301.7,887.5 302.4,887.7 303.2,889.6 303.9,888.4 304.7,887.3 305.4,886.8 306.2,890.5 306.9,890.9 307.7,892.2 308.4,898.5 309.2,897.5 309.9,899.1 310.7,896.7 311.4,898.1 312.2,897.2 312.9,897.1 313.7,898.4 314.4,897.2 315.2,894.8 315.9,890.9 316.7,879.8 316.8,878 317.3,861.8 317.4,852.7 317.8,815.9 318.1,774.6 318.2,754.2 318.3,749.2 318.6,774.2 318.8,815.6 318.9,834.7 319.3,861.8 319.7,876 319.8,878.5 320.4,888.5 321.2,889.9 321.9,892 322.7,895.6 323.4,893.8 324.2,897.3 324.9,895.7 325.7,896.2 326.4,896.5 327.2,889.6 327.3,889.9 327.8,890.9 327.9,891 328.3,888.7 328.6,887.2 328.7,886.5 328.8,886.6 329.1,887.3 329.3,888.5 329.4,889.3 329.8,890.8 330.2,892.2 330.3,892.7 330.9,895.1 331.1,894.4 331.6,889 331.7,886.7 332.1,873.9 332.4,862.7 332.4,859.2 332.6,855.8 332.9,861.1 333.1,872 333.2,876 333.6,888.3 333.9,892.2 334.1,892.7 334.4,893 334.7,892.4 334.9,891.6 335.4,886.9 335.4,886.3 335.6,883.1 335.9,881 336.1,882.3 336.2,882.8 336.4,885.6 336.9,891.3 336.9,891.7 337.4,894.4 337.7,895.3 338.4,894.5 339.2,899.8 339.9,899.2 340.7,898.9 341.4,899 342.2,897.8 342.9,898.5 343.7,901 344.4,898.5 345.2,898.8 345.9,902.6 346.7,902.6 347.4,900.7 348.2,900.8 348.9,899.8 349.7,901.6 350.4,897.9 351.2,898.5 351.9,899 352.7,900.4 353.4,896.9 354.2,897.3 354.9,895.5 355.7,894.7 356.4,894.3 357.2,895.4 357.9,896.7 358.7,893.8 359.4,893.8 360.2,894 360.9,895.1 361.7,895.6 362.4,892 363.2,894.7 363.9,892.3 364.7,895.3 365.4,892.4 366.2,892.2 366.9,892.9 367.7,894.1 368.4,892.5 369.2,894.7 369.9,894.6 370.7,894.5 371.4,894.9 372.2,896.1 372.9,893.3 373.7,894.7 374.4,894.7 375.2,891.2 375.9,895.6 376.7,893.6 377.4,893.7 378.2,894.3 378.9,895.3 379.7,895.8 380.4,896.1 381.2,894.1 381.9,896.6 382.7,896.2 383.4,894.9 384.2,895.7 384.9,897.2 385.7,896.7 386.4,897.2 387.2,896.3 387.9,898.2 388.7,900.2 389.4,897.2 390.2,893.7 390.9,899.6 391.7,895.6 392.4,894.2 393.2,892.5 393.9,897.5 394.7,898.7 395.4,898.5 396.2,896.1 396.9,899.4 397.7,896.7 398.4,895.9 399.2,897.1 399.9,897.4 400.7,897.1 401.4,897.8 402.2,893.3 402.9,900 403.7,896.3 404.4,898.5 405.2,896 405.9,897.7 406.7,897.1 407.4,894.7 408.2,898.2 408.9,898.7 409.7,895.6 410.4,893.9 411.2,896.4 411.9,896.1 412.7,897.8 413.4,897.6 414.2,900.5 414.9,898.8 415.7,897.3 416.4,898 417.2,892.7 417.9,896.2 418.7,896.2 419.4,897.7 420.2,898.3 420.9,897.5 421.2,897.3 421.7,895.9 422.2,890.5 422.4,888 422.7,888 422.9,889.2 423.2,891.4 423.7,894.4 423.9,895.5 424.2,896.6 424.7,897.8 425.4,898.7 426.2,897.8 426.9,898.7 427.7,898.3 428.4,900.2 429.2,898.2 429.9,899 430.7,902.6 431.4,899.6 432.2,899.4 432.9,900.4 433.7,896.7 434.4,899.7 435.2,899.8 435.9,899.2 436.7,900.1 437.4,899.8 438.2,900.5 438.9,897.2 439.7,899 440.4,897 440.9,898.3 441.2,898.6 441.4,897 441.9,891.3 441.9,890.7 442.1,888.1 442.4,886.2 442.6,886.4 442.7,886.7 442.9,889.3 443.4,895.3 443.4,895.8 443.9,896.4 444.2,896 444.9,899.8 445.7,897.5 446.4,894.3 447.2,897.5 447.9,899.9 448.7,898.7 449.4,897 450.2,899.2 450.9,899.1 451.7,900.6 452.4,899.6 453.2,898.7 453.9,896.6 454.7,898.5 455.4,898.5 456.2,898 456.9,898.7 457.7,895.9 458.4,899 459.2,898 459.9,898.7 460.7,897.9 461.4,897.6 462.2,898.5 462.9,899.5 463.7,897.6 464.4,898.8 465.2,896.9 465.9,899 466.7,898.3 467.4,896.1 468.2,900.4 468.9,896.9 469.7,898.6 470.4,896.2 471.2,895.5 471.9,899.7 472.7,896.2 473.4,895 474.2,898.3 474.9,896 475.7,898.3 476.4,901.9 477.2,897.9 477.9,898.9 478.3,898.6 478.7,897.1 478.8,896.3 479.3,891 479.4,889.1 479.6,888 479.8,886.6 480.1,887.6 480.2,889.1 480.3,890.6 480.8,897.5 480.9,899.1 481.3,899.2 481.7,898.3 482.4,899.4 483.2,899 483.9,896.7 484.7,899.5 485.4,899 486.2,900 486.9,900.1 487.7,901.5 488.2,897.1 488.4,894.7 488.7,894.8 489.2,894.1 489.4,892.9 489.7,892.3 489.9,893 490.2,894 490.7,895.8 491.2,898.3 491.4,899.3 492.2,898.6 492.9,899 493.7,895.9 494.4,897.1 495.2,898.6 495.9,897.9 496.7,897.6 497.4,898.4 498.2,898.1 498.9,896.7 499.7,901.4 500.4,897.3 501.2,899.6 501.9,899.5 502.7,900.1 503.4,897.5 504.2,896.7 504.9,899.2 505.7,898.9 506.4,894.3 507.2,893.9 507.9,897.4 508.7,897.7 509.4,897.9 510.2,899.1 510.9,896.7 511.7,902.6 512.5,899.8 513.2,900.4 514,898 514.4,894.5 514.7,891.5 514.9,891.4 515.4,890.6 515.5,890.5 515.6,889 515.9,887.9 516.1,888.1 516.2,888.2 516.4,890 516.9,894.6 517,895.1 517.4,896.7 517.7,897.1 518.5,899.3 519.2,896.8 520,897.8 520.7,898.5 521.5,897.2 522.2,897.7 523,899.6 523.7,901.9 524.5,898.2 525.2,900 526,896.6 526.7,897.8 527.5,899.1 528.2,899.5 529,896.7 529.7,899.5 530.5,898.7 531.2,900.7 532,900 532.7,899.3 533.5,897.7 534.2,898.8 535,896.8 535.7,896.9 536.5,895.1 537.2,896 538,896 538.7,898 539.5,898.3 540.2,895.8 541,897.9 541.7,898.7 542.5,899.6 543.2,897.8 544,898.3 544.7,897.3 545.5,899.5 546.2,895.2 547,898.3 547.7,893.8 548.5,900.8 549.2,899.4 550,894.2 550.7,896.9 551.5,895.4 552.2,894.8 553,897.2 553.7,896.4 554.5,899.7 555.2,897 556,896.1 556.7,897.9 557.5,898.7 558.2,899.5 559,899 559.7,895.6 560.5,896.8 561.2,897.9 562,896.8 562.7,899.6 563.5,897.8 564.2,898.3 565,897.8 565.7,898.6 566.5,896 567.2,902.2 568,897.6 568.7,897.4 569.5,895.6 570.2,898.6 571,896.4 571.7,899.4 572.5,900.9 573.2,899.9 574,898.1 574.7,901.1 575.5,898.6 576.2,898.8 577,899 577.7,898.1 578.5,899.7 579.2,896.8 580,895.9 580.7,901 581.5,897.7 582.2,898.3 583,899.5 583.7,898.1 584.5,896.9 585.2,898.5 586,897.3 586.7,899.8 587.5,898.1 588.2,898.4 589,900.2 589.7,896.2 590.5,896.2 591.2,900.1 592,901 592.7,899 593.5,897.6 594.2,900.9 595,899.7 595.7,900.6 596.5,895.7 597.2,898.6 598,897 598.7,896.9 599.5,899.8 600.2,900.1 601,898.1 601.7,898.5 602.5,901.3 603.2,900.1 604,898.7 604.7,899.9 605.5,899.2 606.2,896.8 607,898.1 607.7,899.5 608.5,900.1 609.2,897 610,897.7 610.7,898 611.5,896.3 612.1,899.6 612.2,899.9 612.6,897.9 613,895.2 613.1,894.4 613.4,893.3 613.6,893.1 613.7,893.4 613.9,892.8 614.1,892.4 614.5,892 614.6,893.3 615.1,896.6 615.2,897.1 616,902.1 616.7,896.7 617.5,896 618.2,899.6 619,901.9 619.7,900.3 620.5,897.5 621.2,900.1 622,899.9 622.7,899.6 623.5,899.8 624.2,900.5 625,901 625.7,901.4 626.5,900.8 627.2,898.7 628,895.7 628.7,899.8 629.5,896.2 630.2,902.6 631,896.7 631.7,895.5 632.5,895.4 633.2,899.2 634,899 634.7,899.6 635.5,898.9 636.2,897.1 637,899.8 637.7,897.1 638.5,895.7 639.2,899.8 640,899.2 640.7,896.6 641.5,897.8 642.2,900 643,899.8 643.7,896.3 644.5,900.1 645.2,893.7 646,898.3 646.7,898.8 647.5,898 648.2,898.4 649,895.4 649.7,898 650.5,899.1 651.2,896.7 652,898.5 652.7,898 653.5,894.4 654.2,897.3 655,899.4 655.7,895.7 656.5,898.5 657.2,899 658,896.3 658.7,898.1 659.5,900.1 660.2,899.8 661,896.9 661.7,900.4 662.5,899.2 663.2,898.9 664,901.3 664.7,899.9 665.5,899.3 666.2,900.3 667,899.8 667.7,900.9 668.5,898.5 669.2,895.6 670,901.4 670.7,900.1 671.5,899.6 672.2,898.7 673,898.5 673.7,898.8 674.5,897 675.2,900 676,898.8 676.7,896.9 677.5,899 678.2,898 679,898.5 679.7,899.5 680.5,902.6 681.2,896.7 682,899.2 682.7,899.7 683.5,899.2 684.2,901.1 685,897.7 685.7,897.9 686.5,898.5 687.2,896.1 688,900.4 688.7,896.4 689.5,899.5 690.2,900.6 691,897.1 691.7,898.3 692.5,898.3 693.2,901.6 694,899.1 694.7,895.7 695.5,900.6 696.2,900.6 697,895.4 697.7,894.1 698.5,902.6 699.2,899.1 700,895.3 700.7,900.8 701.5,901.5 702.2,894.9 703,901.3 703.7,900.3 704.5,899.1 705.2,897.9 706,899.8 706.7,897.8 707.5,899.5 708.2,898.7 709,898.4 709.7,900.1 710.5,900.9 711.2,900.7 712,900 712.7,902.1 713.5,897 714.2,899.3 715,899.4 715.7,901.2 716.5,895.1 717.2,898.3 718,898.5 718.7,899.3 719.5,902.6 720.2,899.3 721,898.7 721.7,899.5 722.5,900.5 723.2,898.4 724,901.6 724.7,896.5 725.5,900.7 726.2,899.7 727,900.2 727.7,901.1 728.5,898 729.2,899.1 730,898.8 730.7,897.2 731.5,896.9 732.2,896.8 733,899.6 733.7,894.1 734.5,895.7 735.2,897.7 735.3,897.8 735.8,897.8 736,897.4 736.3,893.9 736.5,891.3 736.7,890.2 736.8,890.4 737,891.9 737.3,894.4 737.5,896 737.8,897 738.2,897.1 738.3,897.2 739,896.9 739.7,895.3 740.5,898.3 741.2,901.1 742,898.2 742.7,896.3 743.5,899.1 744.2,895.7 745,896.2 745.7,900.1 746.5,898.9 747.2,899.9 748,898.6 748.7,898 749.5,898.5 750.2,897.7 751,900.1 751.7,896 752.5,895 753.2,896.8 754,899.9 754.7,897.3 755.5,894.3 756.2,902.6 757,896.7 757.7,897.9 758.5,899.3 759.2,898.9 760,898 760.7,895.5 761.5,899.1 762.2,896.5 763,897.9 763.7,899.5 764.5,897.5 765.2,895 766,897.1 766.7,899.1 767.5,899.3 768.2,895.8 769,898.1 769.7,898.5 770.5,899.8 771.2,898.7 772,898.2 772.7,897.4 773.5,898.8 774.2,899.3 775,897.6 775.7,897.4 776.5,900.9 777.2,897.8 778,896.6 778.7,899.1 779.5,895.8 780.2,896.1 781,899.6 781.7,898 782.5,899.4 783.2,899.4 784,896.8 784.7,899 785.5,897.5 786.2,898.6 787,898.7 787.7,898.1 788.5,896.1 789.2,898.9 790,898.5 790.7,899.4 791.5,896.7 792.2,898.9 793,898.3 793.7,897.9 794.5,898.3 795.2,898.3 796,896.4 796.7,897.9 797.5,898.1 798.2,899.7 799,898.7 799.7,901.4 800.5,900.1 801.2,899.6 802,899.4 802.7,896.6 803.5,899.7 804.2,901.3 805,897.4 805.7,901.4 806.5,900.2 807.2,899.6 808,898.4 808.7,899.1 809.5,897.7 810.2,899 811,899.1 811.7,899.1 812.5,896.9 813.2,900.6 814,897.8 814.7,899.6 815.5,899.9 816.2,898.5 817,902.6 817.7,899 818.5,899.5 819.2,898.4 820,899.3 820.7,896.6 821.5,899.8 822.2,898.1 823,897.8 823.7,900 824.5,900.2 825.2,897.9 826,896.9 826.7,895.2 827.5,896.9 828.2,899.5 829,899.7 829.7,896.4 830.5,898.7 831.2,900.4 832,897.3 832.7,897.7 833.5,897.1 834.2,899.3 835,895.4 835.7,898.4 836.5,899.3 837.2,898.1 837.5,898.4 838,898.3 838,898.1 838.5,895.8 838.7,894.9 838.8,894.6 839,893.6 839.2,893.3 839.5,893.5 839.5,893.6 840,895.1 840.2,895.5 840.5,896.1 841,896.6 841.7,899.5 842.5,898.5 843.2,899 844,897.2 844.7,900.8 845.5,900.3 846.2,900.1 847,896.9 847.7,902.6 848.5,900.3 849.2,896.9 850,900.4 850.7,898.5 851.5,897.4 852.2,897.4 853,899.6 853.7,899.2 854.5,899 855.2,898.2 856,896.8 856.7,899 857.5,898.1 858.2,898.1 859,899.5 859.7,901.3 860.5,897.3 861.2,900 862,897.1 862.7,899.7 863.5,899.4 864.2,898.3 865,898.6 865.7,896.8 866.5,897.6 867.2,899.7 868,899.4 868.7,901.9 869.5,896.3 870.2,897 870.5,897.2 871,896.8 871,896.6 871.5,894.1 871.7,893 871.8,892.7 872,891.8 872.2,892.1 872.5,892.9 872.5,893.2 873,895.7 873.2,896.3 873.5,897.1 874,897.7 874.7,900.2 875.5,897.9 876.2,896.9 877,898.7 877.7,893.8 878.5,896.8 879.2,897.2 880,898.9 880.7,894.5 881.5,898.1 882.2,896.6 883,900.2 883.7,899.9 884.5,897.8 885.2,899.5 886,896.7 886.7,899.1 887.5,899.2 888.2,900.6 889,898.1 889.7,895.2 890.5,900.3 891.2,897.1 892,898.1 892.7,898.4 893.5,901.9 894.2,899 895,901.1 895.7,899.2 896.5,896.7 897.2,899.9 898,900 898.7,898.2 899.5,896.5 900.2,902.6 901,902.6 901.7,899.8 902.5,899.9 903.2,900.7 904,900.1 904.7,896.5 905.5,896.7 906.2,900.4 907,901.3 907.7,900.8 908.5,900.4 909.2,898.9 910,900.6 910.7,901.6 911.5,899.8 912.2,901 913,901 913.7,897.7 914.5,900.9 915.2,897.6 916,897.3 916.7,901.6 917.5,896.1 918.2,898.6 919,900.4 919.7,899.5 920.5,898.2 921.2,897.3 922,899.8 922.7,899.8 923.5,898.8 924.2,897.3 925,896.5 925.7,899 926.5,898.9 927.2,900.4 928,898.5 928.7,900.6 929.5,897 930.2,896.2 931,900.7 931.7,898.4 932.5,897.7 933.2,898.9 934,897.1 934.7,898.6 935.5,896.8 936.2,899.5 937,898.2 937.7,899.1 938.5,899.2 939.2,899.9 940,896.2 940.7,899.4 941.5,898.7 942.2,897.1 943,898.6 943.7,899.9 944.5,899.8 945.2,902.3 946,898.4 946.7,899.1 947.5,902.1 948.2,897.8 949,897.3 949.7,897.9 950.5,897.6 951.2,898.5 952,898.8 952.7,897.2 953.5,896.5 954.2,898.3 955,896.3 955.7,896.9 956.5,898.8 957.2,898.1 958,896.5 958.7,895.7 959.5,896.4 960.2,895.6 961,898.9 961.7,899.3 962.5,898.5 963.2,898.5 964,897.1 964.7,898.2 965.5,898 966.2,898 967,897.1 967.7,896.1 968.5,898.4 969.2,898.6 970,896.1 970.7,897.6 971.5,897.9 972.2,898.9 973,895.2 973.7,895.7 974.5,895.8 975.2,896 976,896.3 976.7,899.6 977.5,896.2 978.2,901.8 979,898.7 979.7,899.4 980.5,898.2 981.2,899.8 982,899 982.7,899.7 983.5,899.4 984.2,899.4 985,899.1 985.7,900.3 986.5,898.5 987.2,897.6 988,901.1 988.7,897.6 989.5,899.1 990.2,902 991,897.4 991.7,898 992.5,897.3 993.2,896.9 994,899.5 994.7,898.1 995.5,898.6 996.2,895.5 997,899.2 997.7,897.1 998.5,895.1 999.2,897.1 1000,895.6 1000.7,901 1001.5,895.5 1002.2,898.8 1003,896.5 1003.7,896.9 1004.5,896.1 1005.2,900.3 1006,896.4 1006.7,897.2 1007.5,898.7 1008.2,897.7 1009,899.5 1009.7,897.1 1010.5,895.6 1011.2,899.1 1012,900.4 1012.7,899.3 1013.5,897 1014.2,900.4 1015,899.8 1015.7,897.9 1016.5,899.3 1017.2,898.5 1018,898.8 1018.7,899.7 1019.5,900.2 1020.2,898.9 1021,898.9 1021.7,894.6 1022.5,897.5 1023.2,899.7 1024,897.6 1024.7,899.6 1025.5,898.6 1026.2,899.1 1027,899.2 1027.7,901.2 1028.5,899.9 1029.2,899.1 1030,897.1 1030.7,899.7 1031.5,897.3 1032.2,901.2 1033,897.9 1033.7,898 1034.5,898.8 1035.2,897.4 1036,899.9 1036.7,899.6 1037.5,897.8 1038.2,898.1 1039,902 1039.7,900.9 1040.5,899.8 1041.2,899.3 1042,901.3 1042.7,898.1 1043.5,898.3 1044.2,898.4 1045,896.8 1045.7,897.1 1046.5,901.7 1047.2,898.8 1048,897 1048.7,898 1049.5,897.6 1050.2,897.6 1051,898.2 1051.8,902.6" fill="none" stroke="#000" stroke-width="6.2" stroke-linejoin="round" stroke-linecap="round"/>
<path d="M7.6,904 V1.6 H1128 V904" fill="none" stroke="#000" stroke-width="3.4" stroke-linejoin="miter"/>
<path d="M5.9,904 H1129.7" fill="none" stroke="#000" stroke-width="3.6"/>
<path d="M45,904 v9.5 M108,904 v19 M170.9,904 v9.5 M233.9,904 v19 M296.9,904 v9.5 M359.8,904 v19 M422.8,904 v9.5 M485.7,904 v19 M548.6,904 v9.5 M611.6,904 v19 M674.5,904 v9.5 M737.5,904 v19 M800.5,904 v9.5 M863.4,904 v19 M926.4,904 v9.5 M989.3,904 v19 M1052.2,904 v9.5 M1115.2,904 v19" stroke="#000" stroke-width="3.4" fill="none"/>
<text x="108.6" y="963.9" font-size="39" text-anchor="middle">10</text>
<text x="234.5" y="963.9" font-size="39" text-anchor="middle">20</text>
<text x="360.4" y="963.9" font-size="39" text-anchor="middle">30</text>
<text x="486.3" y="963.9" font-size="39" text-anchor="middle">40</text>
<text x="612.2" y="963.9" font-size="39" text-anchor="middle">50</text>
<text x="738.1" y="963.9" font-size="39" text-anchor="middle">60</text>
<text x="864" y="963.9" font-size="39" text-anchor="middle">70</text>
<text x="989.9" y="963.9" font-size="39" text-anchor="middle">80</text>
<text x="1115.8" y="963.9" font-size="39" text-anchor="middle">90</text>
<text x="563.8" y="1022.9" font-size="48.5" text-anchor="middle">2θ°</text>
<text x="566.3" y="1152.6" font-size="51.5" text-anchor="middle">(a)</text>
<text x="480" y="51.6" font-size="47.4" text-anchor="start">Q:Quartz</text>
<text x="480" y="109.4" font-size="47.4" text-anchor="start">O:Opal</text>
<text x="481" y="167.2" font-size="47.2" text-anchor="start">K:Kaolinite</text>
<text x="750" y="51.6" font-size="47.5" text-anchor="start" textLength="364.5" lengthAdjust="spacingAndGlyphs">M:Montmorillonite</text>
<text x="749" y="109.4" font-size="47.2" text-anchor="start" word-spacing="-1">I: Illite</text>
<text x="1120.8" y="266.5" font-size="47.5" text-anchor="end">Illite</text>
<text x="1114.5" y="347.2" font-size="47.5" text-anchor="end" textLength="309" lengthAdjust="spacingAndGlyphs">Montmorillonite</text>
<text x="1116.3" y="702.8" font-size="47.1" text-anchor="end">Kaolinite</text>
<text x="1096.6" y="883.4" font-size="46.9" text-anchor="end">Diatom</text>
<text x="95.8" y="195.9" font-size="38" text-anchor="middle">I</text>
<text x="234.9" y="246" font-size="38" text-anchor="middle">I</text>
<text x="304.8" y="247" font-size="38" text-anchor="middle">I</text>
<text x="334.2" y="213.5" font-size="38" text-anchor="middle">I</text>
<text x="335.7" y="45" font-size="38" text-anchor="middle">Q</text>
<text x="423.4" y="241" font-size="38" text-anchor="middle">I</text>
<text x="478.8" y="255" font-size="38" text-anchor="middle">Q</text>
<text x="517.8" y="254.8" font-size="38" text-anchor="middle">I</text>
<text x="555.9" y="248.8" font-size="38" text-anchor="middle">I</text>
<text x="616.6" y="248.8" font-size="38" text-anchor="middle">Q</text>
<text x="739.1" y="254.8" font-size="38" text-anchor="middle">I</text>
<text x="78" y="315.3" font-size="38" text-anchor="middle">M</text>
<text x="234.9" y="327" font-size="38" text-anchor="middle">M</text>
<text x="428.5" y="348" font-size="38" text-anchor="middle">M</text>
<text x="759.5" y="348.8" font-size="38" text-anchor="middle">M</text>
<text x="153" y="396.3" font-size="38" text-anchor="middle">K</text>
<text x="310.4" y="459.8" font-size="38" text-anchor="middle">K</text>
<text x="237.7" y="690.9" font-size="38" text-anchor="middle">K</text>
<text x="473.3" y="696.4" font-size="38" text-anchor="middle">K</text>
<text x="627.4" y="702.8" font-size="38" text-anchor="middle">K</text>
<text x="676.8" y="705.3" font-size="38" text-anchor="middle">K</text>
<text x="767.5" y="702.8" font-size="38" text-anchor="middle">K</text>
<text x="243.7" y="825.8" font-size="38" text-anchor="middle">O</text>
<text x="335.1" y="761.6" font-size="38" text-anchor="middle">Q</text>
<text x="336.1" y="847" font-size="38" text-anchor="middle">O</text>
<text x="448.1" y="878.8" font-size="38" text-anchor="middle">Q</text>
<text x="481.1" y="878.8" font-size="38" text-anchor="middle">Q</text>
<text x="612" y="878" font-size="38" text-anchor="middle">Q</text>
<text x="736.8" y="885.1" font-size="38" text-anchor="middle">Q</text>
</g>
<g id="panel-b">
<path d="M214,1253.9 V2076.7 M273.7,1253.9 V2076.7 M316,1253.9 V2076.7 M348.9,1253.9 V2076.7 M375.7,1253.9 V2076.7 M398.4,1253.9 V2076.7 M418,1253.9 V2076.7 M435.4,1253.9 V2076.7 M552.9,1253.9 V2076.7 M612.5,1253.9 V2076.7 M654.9,1253.9 V2076.7 M687.7,1253.9 V2076.7 M714.5,1253.9 V2076.7 M737.2,1253.9 V2076.7 M756.8,1253.9 V2076.7 M774.2,1253.9 V2076.7 M891.7,1253.9 V2076.7 M951.3,1253.9 V2076.7 M993.7,1253.9 V2076.7 M1026.5,1253.9 V2076.7 M1053.3,1253.9 V2076.7 M1076,1253.9 V2076.7 M1095.7,1253.9 V2076.7 M1113,1253.9 V2076.7 M112,1994.4 H1128.5 M112,1829.9 H1128.5 M112,1665.3 H1128.5 M112,1500.7 H1128.5 M112,1336.2 H1128.5" stroke="#cfcfcf" stroke-width="1.2" stroke-dasharray="4.6 2.8" fill="none"/>
<path d="M450.9,1253.9 V2076.7 M789.7,1253.9 V2076.7 M112,1912.1 H1128.5 M112,1747.6 H1128.5 M112,1583 H1128.5 M112,1418.5 H1128.5" stroke="#9a9a9a" stroke-width="1.5" fill="none"/>
<path d="M112,1253.9 H1128.5 V2076.7 H110.1" fill="none" stroke="#000" stroke-width="3.8"/>
<path d="M112,1252 V2092.7" fill="none" stroke="#000" stroke-width="3.8"/>
<path d="M112,2076.7 h-17 M112,1994.4 h-8.4 M112,1912.1 h-17 M112,1829.9 h-8.4 M112,1747.6 h-17 M112,1665.3 h-8.4 M112,1583 h-17 M112,1500.7 h-8.4 M112,1418.5 h-17 M112,1336.2 h-8.4 M112,1253.9 h-17 M112,2076.7 v16 M214,2076.7 v8.5 M273.7,2076.7 v8.5 M316,2076.7 v8.5 M348.9,2076.7 v8.5 M375.7,2076.7 v8.5 M398.4,2076.7 v8.5 M418,2076.7 v8.5 M435.4,2076.7 v8.5 M450.9,2076.7 v16 M552.9,2076.7 v8.5 M612.5,2076.7 v8.5 M654.9,2076.7 v8.5 M687.7,2076.7 v8.5 M714.5,2076.7 v8.5 M737.2,2076.7 v8.5 M756.8,2076.7 v8.5 M774.2,2076.7 v8.5 M789.7,2076.7 v16 M891.7,2076.7 v8.5 M951.3,2076.7 v8.5 M993.7,2076.7 v8.5 M1026.5,2076.7 v8.5 M1053.3,2076.7 v8.5 M1076,2076.7 v8.5 M1095.7,2076.7 v8.5 M1113,2076.7 v8.5 M1128.5,2076.7 v16" stroke="#000" stroke-width="3.8" fill="none"/>
<g clip-path="url(#clipb)">
<path d="M212.9,1929.6 C224.6,1923.9 254.5,1906.7 282.9,1895.5 C311.2,1884.3 358.2,1871.8 383,1862.5 C407.8,1853.2 415.4,1847.9 431.4,1839.8 C447.4,1831.7 466.5,1820.7 479.2,1813.8 C491.9,1806.9 494.8,1803.8 507.3,1798.3 C519.8,1792.8 535.6,1790.4 554.1,1780.5 C572.6,1770.6 599.4,1757 618.3,1739 C637.1,1721 646,1715 667.2,1672.5 C688.4,1630 713.5,1541.8 745.5,1484 C777.5,1426.2 824.8,1359 859.2,1326 C893.6,1293 919.5,1297.6 952,1285.7 C984.5,1273.8 1025,1259.8 1054.3,1254.5 C1083.6,1249.2 1115.7,1253.9 1128,1253.8" fill="none" stroke="#414A9C" stroke-width="6.6" stroke-dasharray="26 36" stroke-dashoffset="1" stroke-linecap="round" stroke-linejoin="round"/>
<circle cx="212.9" cy="1929.6" r="10.3" fill="#414A9C"/>
<circle cx="282.9" cy="1895.5" r="10.3" fill="#414A9C"/>
<circle cx="383" cy="1862.5" r="10.3" fill="#414A9C"/>
<circle cx="431.4" cy="1839.8" r="10.3" fill="#414A9C"/>
<circle cx="479.2" cy="1813.8" r="10.3" fill="#414A9C"/>
<circle cx="507.3" cy="1798.3" r="10.3" fill="#414A9C"/>
<circle cx="554.1" cy="1780.5" r="10.3" fill="#414A9C"/>
<circle cx="618.3" cy="1739" r="10.3" fill="#414A9C"/>
<circle cx="667.2" cy="1672.5" r="10.3" fill="#414A9C"/>
<circle cx="745.5" cy="1484" r="10.3" fill="#414A9C"/>
<circle cx="859.2" cy="1326" r="10.3" fill="#414A9C"/>
<circle cx="952" cy="1285.7" r="10.3" fill="#414A9C"/>
<circle cx="1054.3" cy="1254.5" r="10.3" fill="#414A9C"/>
<path d="M160.3,1923 C169.2,1917.1 193.8,1904.5 214,1887.6 C234.2,1870.7 253.5,1849.5 281.7,1821.7 C309.9,1793.9 358.1,1748.1 383,1720.5 C407.9,1692.9 415.1,1672.6 431.2,1656 C447.3,1639.4 466.9,1630.3 479.6,1621 C492.3,1611.7 494.8,1611.9 507.5,1600.3 C520.2,1588.7 537.4,1568 556,1551.5 C574.6,1535 600.5,1515.2 619,1501.5 C637.5,1487.8 646.1,1494.2 667.2,1469.5 C688.3,1444.8 712.4,1389.1 745.5,1353.6 C778.6,1318.1 845.9,1272.7 866,1256.5" fill="none" stroke="#6B2A84" stroke-width="6.6" stroke-dasharray="26 36" stroke-dashoffset="1" stroke-linecap="round" stroke-linejoin="round"/>
<path d="M148.2,1933.4 L172.4,1933.4 L160.3,1912.6 Z" fill="#6B2A84"/>
<path d="M201.9,1898 L226.1,1898 L214,1877.2 Z" fill="#6B2A84"/>
<path d="M269.6,1832.1 L293.8,1832.1 L281.7,1811.3 Z" fill="#6B2A84"/>
<path d="M370.9,1730.9 L395.1,1730.9 L383,1710.1 Z" fill="#6B2A84"/>
<path d="M419.1,1666.4 L443.3,1666.4 L431.2,1645.6 Z" fill="#6B2A84"/>
<path d="M467.5,1631.4 L491.7,1631.4 L479.6,1610.6 Z" fill="#6B2A84"/>
<path d="M495.4,1610.7 L519.6,1610.7 L507.5,1589.9 Z" fill="#6B2A84"/>
<path d="M543.9,1561.9 L568.1,1561.9 L556,1541.1 Z" fill="#6B2A84"/>
<path d="M606.9,1511.9 L631.1,1511.9 L619,1491.1 Z" fill="#6B2A84"/>
<path d="M655.1,1479.9 L679.3,1479.9 L667.2,1459.1 Z" fill="#6B2A84"/>
<path d="M733.4,1364 L757.6,1364 L745.5,1343.2 Z" fill="#6B2A84"/>
<path d="M853.9,1266.9 L878.1,1266.9 L866,1246.1 Z" fill="#6B2A84"/>
<path d="M160.3,1964.3 C169.1,1958.8 192.4,1949 212.8,1931 C233.2,1913 254.6,1888.7 283,1856 C311.4,1823.3 358.4,1766.5 383,1735 C407.6,1703.5 414.7,1693.9 430.8,1666.8 C446.9,1639.7 466.4,1593 479.4,1572.5 C492.4,1552 495.8,1557.9 508.6,1543.5 C521.4,1529.1 538,1516.4 556.2,1486 C574.4,1455.6 599.7,1389.8 618,1361 C636.3,1332.2 644.8,1328.3 666,1313.5 C687.2,1298.7 724,1281 745,1272 C766,1263 771.8,1262.3 792,1259.5 C812.2,1256.7 853.7,1255.8 866,1255" fill="none" stroke="#535353" stroke-width="6.6" stroke-dasharray="26 36" stroke-dashoffset="1" stroke-linecap="round" stroke-linejoin="round"/>
<path d="M148.2,1953.9 L172.4,1953.9 L160.3,1974.7 Z" fill="#535353"/>
<path d="M200.7,1920.6 L224.9,1920.6 L212.8,1941.4 Z" fill="#535353"/>
<path d="M270.9,1845.6 L295.1,1845.6 L283,1866.4 Z" fill="#535353"/>
<path d="M370.9,1724.6 L395.1,1724.6 L383,1745.4 Z" fill="#535353"/>
<path d="M418.7,1656.4 L442.9,1656.4 L430.8,1677.2 Z" fill="#535353"/>
<path d="M467.3,1562.1 L491.5,1562.1 L479.4,1582.9 Z" fill="#535353"/>
<path d="M496.5,1533.1 L520.7,1533.1 L508.6,1553.9 Z" fill="#535353"/>
<path d="M544.1,1475.6 L568.3,1475.6 L556.2,1496.4 Z" fill="#535353"/>
<path d="M605.9,1350.6 L630.1,1350.6 L618,1371.4 Z" fill="#535353"/>
<path d="M653.9,1303.1 L678.1,1303.1 L666,1323.9 Z" fill="#535353"/>
<path d="M732.9,1261.6 L757.1,1261.6 L745,1282.4 Z" fill="#535353"/>
<path d="M779.9,1249.1 L804.1,1249.1 L792,1269.9 Z" fill="#535353"/>
<path d="M853.9,1244.6 L878.1,1244.6 L866,1265.4 Z" fill="#535353"/>
<path d="M112.4,1912 C129.3,1904.5 187.3,1890.9 214,1867.2 C240.7,1843.5 250.8,1797.8 272.8,1769.8 C294.9,1741.8 329.2,1715.2 346.3,1699.3 C363.4,1683.4 363.2,1689.5 375.1,1674.6 C387.1,1659.7 403.3,1628 418,1610 C432.7,1592 446.5,1587.1 463.5,1566.5 C480.5,1545.9 496,1514.4 519.8,1486.2 C543.6,1458 584.8,1421 606.5,1397.5 C628.2,1374 638.7,1358.7 650.2,1345 C661.8,1331.3 667.3,1325.4 675.8,1315.5 C684.3,1305.6 689.6,1293.9 701,1285.8 C712.4,1277.7 729.1,1271.7 744.2,1267 C759.3,1262.3 783.6,1259.1 791.5,1257.5" fill="none" stroke="#30AAA8" stroke-width="6.6" stroke-dasharray="26 36" stroke-dashoffset="1" stroke-linecap="round" stroke-linejoin="round"/>
<path d="M99.6,1912 L112.4,1899.2 L125.2,1912 L112.4,1924.8 Z" fill="#30AAA8"/>
<path d="M201.2,1867.2 L214,1854.4 L226.8,1867.2 L214,1880 Z" fill="#30AAA8"/>
<path d="M260,1769.8 L272.8,1757 L285.6,1769.8 L272.8,1782.6 Z" fill="#30AAA8"/>
<path d="M333.5,1699.3 L346.3,1686.5 L359.1,1699.3 L346.3,1712.1 Z" fill="#30AAA8"/>
<path d="M362.3,1674.6 L375.1,1661.8 L387.9,1674.6 L375.1,1687.4 Z" fill="#30AAA8"/>
<path d="M405.2,1610 L418,1597.2 L430.8,1610 L418,1622.8 Z" fill="#30AAA8"/>
<path d="M450.7,1566.5 L463.5,1553.7 L476.3,1566.5 L463.5,1579.3 Z" fill="#30AAA8"/>
<path d="M507,1486.2 L519.8,1473.4 L532.6,1486.2 L519.8,1499 Z" fill="#30AAA8"/>
<path d="M593.7,1397.5 L606.5,1384.7 L619.3,1397.5 L606.5,1410.3 Z" fill="#30AAA8"/>
<path d="M637.4,1345 L650.2,1332.2 L663,1345 L650.2,1357.8 Z" fill="#30AAA8"/>
<path d="M663,1315.5 L675.8,1302.7 L688.6,1315.5 L675.8,1328.3 Z" fill="#30AAA8"/>
<path d="M688.2,1285.8 L701,1273 L713.8,1285.8 L701,1298.6 Z" fill="#30AAA8"/>
<path d="M731.4,1267 L744.2,1254.2 L757,1267 L744.2,1279.8 Z" fill="#30AAA8"/>
<path d="M778.7,1257.5 L791.5,1244.7 L804.3,1257.5 L791.5,1270.3 Z" fill="#30AAA8"/>
<path d="M156.2,2051.8 C165.2,2050.6 189.9,2048.6 210.5,2044.5 C231.1,2040.5 257.4,2048.5 279.8,2027.5 C302.2,2006.5 328,1949.4 344.8,1918.7 C361.6,1888 366.4,1878.5 380.4,1843.2 C394.4,1807.9 412.9,1752.1 428.6,1706.8 C444.3,1661.5 462.1,1605.8 474.5,1571.5 C486.9,1537.2 490.1,1523.9 503,1500.8 C515.9,1477.7 533.4,1458.3 552,1433 C570.6,1407.7 595.9,1369.8 614.8,1349 C633.7,1328.2 644.1,1320.6 665.5,1308.5 C686.9,1296.4 710,1285 743.4,1276.2 C776.8,1267.5 845.6,1259.4 866,1256" fill="none" stroke="#E2873D" stroke-width="6.6" stroke-dasharray="26 36" stroke-dashoffset="1" stroke-linecap="round" stroke-linejoin="round"/>
<path d="M166.6,2039.8 L166.6,2063.8 L145.8,2051.8 Z" fill="#E2873D"/>
<path d="M220.9,2032.5 L220.9,2056.5 L200.1,2044.5 Z" fill="#E2873D"/>
<path d="M290.2,2015.5 L290.2,2039.5 L269.4,2027.5 Z" fill="#E2873D"/>
<path d="M355.2,1906.7 L355.2,1930.7 L334.4,1918.7 Z" fill="#E2873D"/>
<path d="M390.8,1831.2 L390.8,1855.2 L370,1843.2 Z" fill="#E2873D"/>
<path d="M439,1694.8 L439,1718.8 L418.2,1706.8 Z" fill="#E2873D"/>
<path d="M484.9,1559.5 L484.9,1583.5 L464.1,1571.5 Z" fill="#E2873D"/>
<path d="M513.4,1488.8 L513.4,1512.8 L492.6,1500.8 Z" fill="#E2873D"/>
<path d="M562.4,1421 L562.4,1445 L541.6,1433 Z" fill="#E2873D"/>
<path d="M625.2,1337 L625.2,1361 L604.4,1349 Z" fill="#E2873D"/>
<path d="M675.9,1296.5 L675.9,1320.5 L655.1,1308.5 Z" fill="#E2873D"/>
<path d="M753.8,1264.2 L753.8,1288.2 L733,1276.2 Z" fill="#E2873D"/>
<path d="M876.4,1244 L876.4,1268 L855.6,1256 Z" fill="#E2873D"/>
<path d="M110.7,2077 L110.7,2066.4 C115.6,2065.9 130.8,2064.3 140,2063.2 C149.2,2062.1 156.9,2061.6 166.2,2060 C175.5,2058.4 185.9,2056.1 196,2053.5 C206.1,2050.9 216.7,2048.3 227,2044.5 C237.3,2040.7 247.9,2035.9 258,2030.5 C268.1,2025.1 277.8,2018.8 287.8,2012 C297.8,2005.2 307.9,1997.4 318,1989.5 C328.1,1981.6 338.4,1973.1 348.7,1964.5 C359,1955.9 369.7,1946.9 380,1938 C390.3,1929.1 400.2,1920.9 410.4,1910.9 C420.6,1900.9 430.9,1890.5 441,1878 C451.1,1865.5 461.1,1854.3 471.3,1836 C481.5,1817.7 491.8,1793.8 502,1768 C512.2,1742.2 522.2,1715.9 532.4,1681.2 C542.6,1646.5 552.9,1601.5 563,1560 C573.1,1518.5 584.9,1465.7 593.2,1432.5 C601.5,1399.3 606.5,1383.8 613,1361 C619.5,1338.2 625.3,1312.6 632.2,1296 C639.1,1279.4 647.9,1268.2 654.5,1261.5 C661.1,1254.8 666.1,1256.8 672,1255.5 C677.9,1254.2 685.7,1254.2 690,1253.9 C694.3,1253.6 696.7,1253.9 698,1253.9 H1129" fill="none" stroke="#F3767A" stroke-width="6.6" stroke-linecap="butt" stroke-linejoin="round"/>
<rect x="157" y="2050.8" width="18.4" height="18.4" fill="#F3767A"/>
<rect x="217.8" y="2035.3" width="18.4" height="18.4" fill="#F3767A"/>
<rect x="278.6" y="2002.8" width="18.4" height="18.4" fill="#F3767A"/>
<rect x="339.5" y="1955.3" width="18.4" height="18.4" fill="#F3767A"/>
<rect x="401.2" y="1901.7" width="18.4" height="18.4" fill="#F3767A"/>
<rect x="462.1" y="1826.8" width="18.4" height="18.4" fill="#F3767A"/>
<rect x="523.2" y="1672" width="18.4" height="18.4" fill="#F3767A"/>
<rect x="584" y="1423.3" width="18.4" height="18.4" fill="#F3767A"/>
<rect x="645.3" y="1252.3" width="18.4" height="18.4" fill="#F3767A"/>
<rect x="706.2" y="1244.6" width="18.4" height="18.4" fill="#F3767A"/>
<rect x="766.8" y="1244.6" width="18.4" height="18.4" fill="#F3767A"/>
<rect x="827.6" y="1244.6" width="18.4" height="18.4" fill="#F3767A"/>
<rect x="888.8" y="1244.6" width="18.4" height="18.4" fill="#F3767A"/>
<rect x="950.3" y="1244.6" width="18.4" height="18.4" fill="#F3767A"/>
<rect x="1011.3" y="1244.6" width="18.4" height="18.4" fill="#F3767A"/>
<rect x="1071.8" y="1244.6" width="18.4" height="18.4" fill="#F3767A"/>
<path d="M110.7,2054.6 C116.4,2053.2 133.4,2049.5 145,2046.5 C156.6,2043.5 167.5,2040.9 180.3,2036.5 C193.1,2032.1 207.9,2026.7 222,2020 C236.1,2013.3 250.5,2006.1 264.7,1996.5 C278.9,1986.9 293,1975.3 307,1962.5 C321,1949.7 334.7,1934.7 348.7,1919.4 C362.7,1904.1 376.9,1887.9 391,1870.5 C405.1,1853.1 419.4,1835.8 433.6,1815 C447.8,1794.2 461.9,1771.4 476,1746 C490.1,1720.6 504.5,1695.9 518.5,1662.4 C532.5,1628.9 546,1585.2 560,1545 C574,1504.8 590.7,1453 602.2,1421.3 C613.7,1389.6 622.1,1372.2 628.9,1355 C635.7,1337.8 638.6,1328.2 643,1318 C647.4,1307.8 651.7,1300 655.3,1293.5 C658.9,1287 661.5,1283.5 664.5,1279.3 C667.5,1275.1 670.9,1271.4 673.6,1268.3 C676.4,1265.2 678.5,1262.8 681,1260.6 C683.5,1258.4 685.7,1256.5 688.5,1255.4 C691.3,1254.3 695.1,1254.2 698,1253.9 C700.9,1253.7 704.7,1253.9 706,1253.9 H1129" fill="none" stroke="#E8212E" stroke-width="6.6" stroke-linecap="butt" stroke-linejoin="round"/>
<circle cx="180.3" cy="2036.5" r="10.2" fill="url(#sph)"/>
<circle cx="264.7" cy="1996.5" r="10.2" fill="url(#sph)"/>
<circle cx="348.7" cy="1919.4" r="10.2" fill="url(#sph)"/>
<circle cx="433.6" cy="1815" r="10.2" fill="url(#sph)"/>
<circle cx="518.5" cy="1662.4" r="10.2" fill="url(#sph)"/>
<circle cx="602.2" cy="1421.3" r="10.2" fill="url(#sph)"/>
<circle cx="686.8" cy="1255.8" r="10.2" fill="url(#sph)"/>
<circle cx="771.6" cy="1253.8" r="10.2" fill="url(#sph)"/>
<circle cx="857.5" cy="1253.8" r="10.2" fill="url(#sph)"/>
<circle cx="942" cy="1253.8" r="10.2" fill="url(#sph)"/>
<circle cx="1025.4" cy="1253.8" r="10.2" fill="url(#sph)"/>
<circle cx="1111.4" cy="1253.8" r="10.2" fill="url(#sph)"/>
<circle cx="1127.4" cy="1253.8" r="10.2" fill="url(#sph)"/>
</g>
<text x="84.8" y="2086.9" font-size="34.2" text-anchor="end">0</text>
<text x="84.8" y="1922.3" font-size="34.2" text-anchor="end">20</text>
<text x="84.8" y="1757.8" font-size="34.2" text-anchor="end">40</text>
<text x="84.8" y="1593.2" font-size="34.2" text-anchor="end">60</text>
<text x="84.8" y="1428.7" font-size="34.2" text-anchor="end">80</text>
<text x="84.8" y="1264.1" font-size="34.2" text-anchor="end">100</text>
<text x="110" y="2129.8" font-size="34" text-anchor="middle">0.001</text>
<text x="450.1" y="2129.8" font-size="34" text-anchor="middle">0.01</text>
<text x="788.8" y="2129.8" font-size="34" text-anchor="middle">0.1</text>
<text x="1122.3" y="2129.8" font-size="34" text-anchor="start">1</text>
<text x="620.6" y="2179" font-size="42.7" text-anchor="middle">Particle size(mm)</text>
<text transform="translate(29.9,1663.8) rotate(-90)" font-size="43.5" text-anchor="middle">Passing Percentage/%</text>
<text x="566.9" y="2310.6" font-size="51.5" text-anchor="middle">(b)</text>
<path d="M748.6,1730 H774.3 M810,1730 H835.6" stroke="#414A9C" stroke-width="6.6" stroke-linecap="round" fill="none"/>
<circle cx="796.2" cy="1730" r="10.3" fill="#414A9C"/>
<text x="853.9" y="1743.8" font-size="42.8" text-anchor="start">Chile</text>
<path d="M748.6,1782.5 H774.3 M810,1782.5 H835.6" stroke="#6B2A84" stroke-width="6.6" stroke-linecap="round" fill="none"/>
<path d="M784.1,1789.6 L808.3,1789.6 L796.2,1768.8 Z" fill="#6B2A84"/>
<text x="853.9" y="1796.3" font-size="42.8" text-anchor="start">Colombia</text>
<path d="M748.6,1835 H774.3 M810,1835 H835.6" stroke="#535353" stroke-width="6.6" stroke-linecap="round" fill="none"/>
<path d="M784.1,1827.9 L808.3,1827.9 L796.2,1848.7 Z" fill="#535353"/>
<text x="853.9" y="1848.8" font-size="42.8" text-anchor="start">Japan</text>
<path d="M748.6,1887.6 H774.3 M810,1887.6 H835.6" stroke="#30AAA8" stroke-width="6.6" stroke-linecap="round" fill="none"/>
<path d="M783.4,1887.6 L796.2,1874.8 L809,1887.6 L796.2,1900.4 Z" fill="#30AAA8"/>
<text x="853.9" y="1901.4" font-size="42.8" text-anchor="start">China</text>
<path d="M748.6,1940.2 H774.3 M810,1940.2 H835.6" stroke="#E2873D" stroke-width="6.6" stroke-linecap="round" fill="none"/>
<path d="M803.4,1928.2 L803.4,1952.2 L782.6,1940.2 Z" fill="#E2873D"/>
<text x="853.9" y="1954" font-size="42.8" text-anchor="start">Mexico</text>
<path d="M749.6,1992.8 H842.9" stroke="#F3767A" stroke-width="6.6" stroke-linecap="round" fill="none"/>
<rect x="787" y="1983.6" width="18.4" height="18.4" fill="#F3767A"/>
<text x="853.9" y="2006.6" font-size="42.8" text-anchor="start">Diatom powder</text>
<path d="M749.6,2045.2 H842.9" stroke="#E8212E" stroke-width="6.6" stroke-linecap="round" fill="none"/>
<circle cx="796.2" cy="2045.2" r="10.2" fill="url(#sph)"/>
<text x="853.9" y="2059" font-size="42.8" text-anchor="start">Diatomite</text>
</g>
</svg>
</body></html>
